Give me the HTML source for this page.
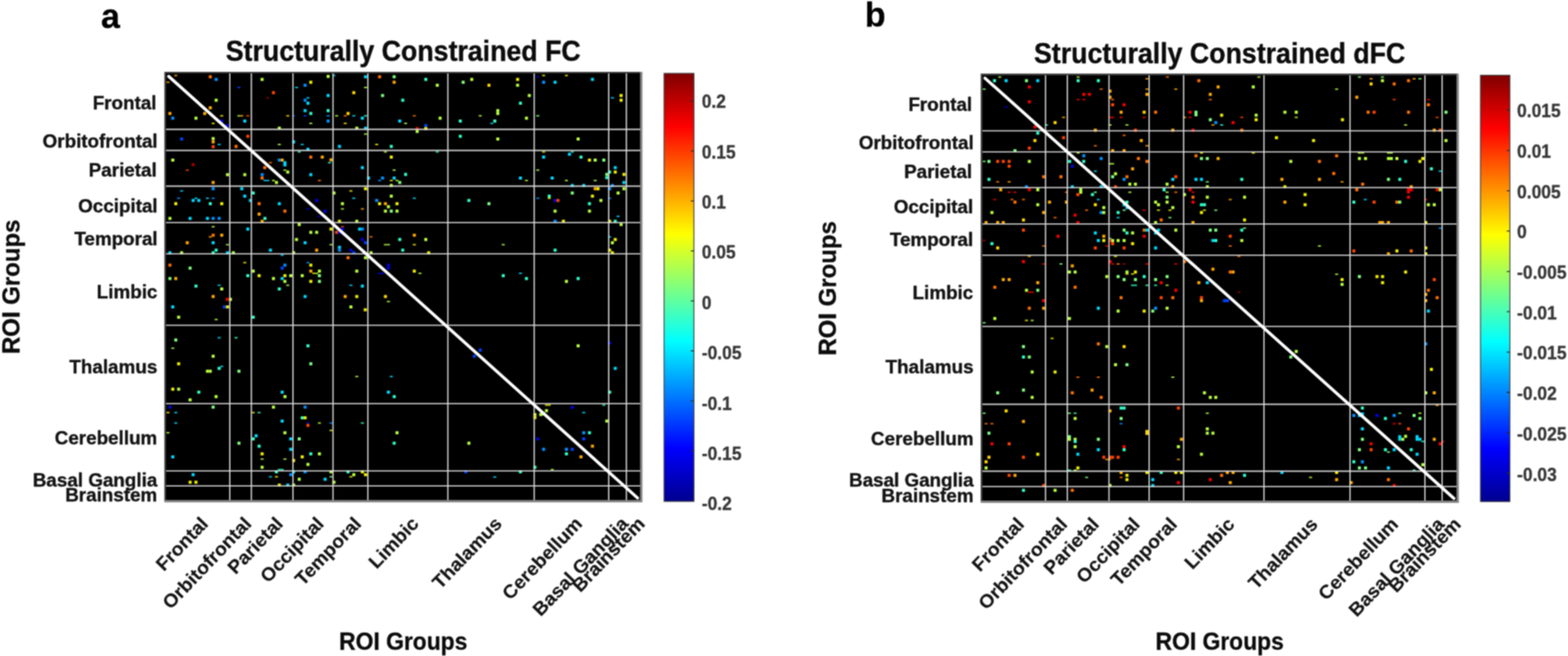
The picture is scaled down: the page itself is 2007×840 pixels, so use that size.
<!DOCTYPE html>
<html lang="en">
<head>
<meta charset="utf-8">
<title>Structurally Constrained FC and dFC</title>
<style>
html,body{margin:0;padding:0;background:#fff;}
body{width:2007px;height:840px;overflow:hidden;}
svg{display:block;}
text{font-family:"Liberation Sans",Arial,Helvetica,sans-serif;font-weight:bold;fill:#1c1c1c;}
.ti{font-size:37px;fill:#0c0c0c;stroke:#0c0c0c;stroke-width:0.5px;}
.pl{font-size:45px;fill:#000;stroke:#000;stroke-width:0.3px;}
.al{font-size:31.7px;fill:#0c0c0c;stroke:#0c0c0c;stroke-width:0.4px;}
.alv{font-size:31px;fill:#0c0c0c;stroke:#0c0c0c;stroke-width:0.4px;}
.tl{font-size:24.1px;fill:#141414;stroke:#141414;stroke-width:0.45px;}
.tr{stroke-width:0.2px;}
.cl{font-size:24px;fill:#383838;stroke:#383838;stroke-width:0.4px;}
</style>
</head>
<body>
<svg width="2007" height="840" viewBox="0 0 2007 840">
<defs>
<filter id="soft" x="0" y="0" width="2007" height="840" filterUnits="userSpaceOnUse" color-interpolation-filters="sRGB">
<feConvolveMatrix order="3" kernelMatrix="1 2 1 2 4 2 1 2 1" edgeMode="duplicate" preserveAlpha="true"/>
</filter>
<linearGradient id="jet" x1="0" y1="1" x2="0" y2="0">
<stop offset="0" stop-color="#00008f"/>
<stop offset="0.125" stop-color="#0000ff"/>
<stop offset="0.375" stop-color="#00ffff"/>
<stop offset="0.625" stop-color="#ffff00"/>
<stop offset="0.875" stop-color="#ff0000"/>
<stop offset="1" stop-color="#800000"/>
</linearGradient>
</defs>
<g filter="url(#soft)">
<rect width="2007" height="840" fill="#fff"/>
<g>
<rect x="211.1" y="92.6" width="610.1" height="549.4" fill="#000"/>
<g><rect x="223.05" y="95.72" width="3.9" height="1.9" fill="#ffa800" opacity=".85"/><rect x="267.22" y="96.38" width="3.9" height="3.9" fill="#ff7000"/><rect x="418.05" y="95.88" width="3.9" height="3.9" fill="#b8ff40"/><rect x="425.55" y="95.72" width="3.9" height="1.9" fill="#00d8ff" opacity=".85"/><rect x="465.88" y="96.38" width="3.9" height="3.9" fill="#00d8ff"/><rect x="483.88" y="96.38" width="3.9" height="3.9" fill="#ff7000"/><rect x="502.55" y="96.38" width="3.9" height="3.9" fill="#80ff80"/><rect x="274.72" y="99.72" width="3.9" height="3.9" fill="#0090ff"/><rect x="333.55" y="99.72" width="3.9" height="3.9" fill="#b8ff40"/><rect x="213.05" y="104.38" width="3.9" height="1.9" fill="#ffa800" opacity=".85"/><rect x="395.88" y="103.38" width="3.9" height="3.9" fill="#f0f000"/><rect x="502.55" y="103.38" width="3.9" height="3.9" fill="#ffa800"/><rect x="388.55" y="107.22" width="3.9" height="3.9" fill="#0090ff"/><rect x="303.88" y="111.05" width="3.9" height="1.9" fill="#0040ff" opacity=".85"/><rect x="377.55" y="111.05" width="3.9" height="1.9" fill="#00d8ff" opacity=".85"/><rect x="465.88" y="111.05" width="3.9" height="1.9" fill="#b8ff40" opacity=".85"/><rect x="348.05" y="116.72" width="3.9" height="3.9" fill="#ff4400"/><rect x="450.88" y="116.72" width="3.9" height="3.9" fill="#ffd800"/><rect x="418.05" y="120.38" width="3.9" height="3.9" fill="#00d8ff"/><rect x="487.72" y="120.38" width="3.9" height="3.9" fill="#80ff80"/><rect x="340.55" y="124.38" width="3.9" height="1.9" fill="#a00000" opacity=".85"/><rect x="392.22" y="124.38" width="3.9" height="1.9" fill="#00d8ff" opacity=".85"/><rect x="274.72" y="126.38" width="3.9" height="3.9" fill="#b8ff40"/><rect x="388.55" y="126.38" width="3.9" height="3.9" fill="#0090ff"/><rect x="513.55" y="126.38" width="3.9" height="3.9" fill="#30ffc8"/><rect x="392.22" y="130.22" width="3.9" height="3.9" fill="#00d8ff"/><rect x="267.22" y="136.05" width="3.9" height="3.9" fill="#ffa800"/><rect x="388.55" y="139.72" width="3.9" height="3.9" fill="#00d8ff"/><rect x="418.05" y="139.72" width="3.9" height="3.9" fill="#30ffc8"/><rect x="215.55" y="143.38" width="3.9" height="3.9" fill="#ffa800"/><rect x="260.05" y="143.38" width="3.9" height="3.9" fill="#ffa800"/><rect x="395.88" y="143.38" width="3.9" height="3.9" fill="#30ffc8"/><rect x="443.55" y="143.38" width="3.9" height="3.9" fill="#ffd800"/><rect x="281.88" y="147.38" width="3.9" height="1.9" fill="#f0f000" opacity=".85"/><rect x="303.88" y="147.38" width="3.9" height="1.9" fill="#b8ff40" opacity=".85"/><rect x="307.55" y="147.38" width="3.9" height="1.9" fill="#ffa800" opacity=".85"/><rect x="315.22" y="147.38" width="3.9" height="1.9" fill="#ff4400" opacity=".85"/><rect x="366.38" y="147.38" width="3.9" height="1.9" fill="#ffd800" opacity=".85"/><rect x="373.88" y="147.38" width="3.9" height="1.9" fill="#0040ff" opacity=".85"/><rect x="388.55" y="147.38" width="3.9" height="1.9" fill="#0040ff" opacity=".85"/><rect x="418.05" y="147.38" width="3.9" height="1.9" fill="#0090ff" opacity=".85"/><rect x="428.88" y="147.38" width="3.9" height="1.9" fill="#b8ff40" opacity=".85"/><rect x="439.88" y="147.38" width="3.9" height="1.9" fill="#ff7000" opacity=".85"/><rect x="450.88" y="147.38" width="3.9" height="1.9" fill="#00d8ff" opacity=".85"/><rect x="465.88" y="147.38" width="3.9" height="1.9" fill="#30ffc8" opacity=".85"/><rect x="219.22" y="149.38" width="3.9" height="3.9" fill="#0090ff"/><rect x="248.88" y="149.38" width="3.9" height="3.9" fill="#b8ff40"/><rect x="461.88" y="149.38" width="3.9" height="3.9" fill="#00d8ff"/><rect x="311.38" y="153.05" width="3.9" height="3.9" fill="#00d8ff"/><rect x="418.05" y="153.05" width="3.9" height="3.9" fill="#0090ff"/><rect x="509.72" y="153.05" width="3.9" height="3.9" fill="#00d8ff"/><rect x="281.88" y="153.05" width="3.9" height="3.9" fill="#0000e0"/><rect x="270.88" y="157.05" width="3.9" height="1.9" fill="#f0f000" opacity=".85"/><rect x="395.88" y="157.05" width="3.9" height="1.9" fill="#b8ff40" opacity=".85"/><rect x="439.88" y="157.05" width="3.9" height="1.9" fill="#ffd800" opacity=".85"/><rect x="517.22" y="157.05" width="3.9" height="1.9" fill="#b8ff40" opacity=".85"/><rect x="288.88" y="158.88" width="3.9" height="3.9" fill="#0000e0"/><rect x="355.55" y="162.22" width="3.9" height="3.9" fill="#b8ff40"/><rect x="454.72" y="162.22" width="3.9" height="3.9" fill="#b8ff40"/><rect x="465.88" y="162.22" width="3.9" height="3.9" fill="#00d8ff"/><rect x="465.88" y="170.72" width="3.9" height="1.9" fill="#b8ff40" opacity=".85"/><rect x="315.22" y="172.55" width="3.9" height="3.9" fill="#ff4400"/><rect x="230.55" y="176.05" width="3.9" height="3.9" fill="#0040ff"/><rect x="270.88" y="175.55" width="3.9" height="3.9" fill="#b8ff40"/><rect x="270.88" y="179.72" width="3.9" height="3.9" fill="#ffa800"/><rect x="373.88" y="179.72" width="3.9" height="3.9" fill="#00d8ff"/><rect x="278.55" y="184.05" width="3.9" height="1.9" fill="#00d8ff" opacity=".85"/><rect x="355.55" y="184.05" width="3.9" height="1.9" fill="#b8ff40" opacity=".85"/><rect x="384.88" y="184.05" width="3.9" height="1.9" fill="#00d8ff" opacity=".85"/><rect x="480.22" y="184.05" width="3.9" height="1.9" fill="#f0f000" opacity=".85"/><rect x="270.88" y="185.88" width="3.9" height="3.9" fill="#ff4400"/><rect x="300.22" y="185.55" width="3.9" height="3.9" fill="#ff7000"/><rect x="432.55" y="185.55" width="3.9" height="3.9" fill="#00d8ff"/><rect x="498.88" y="185.55" width="3.9" height="3.9" fill="#30ffc8"/><rect x="392.22" y="189.22" width="3.9" height="3.9" fill="#00d8ff"/><rect x="381.05" y="193.55" width="3.9" height="1.9" fill="#30ffc8" opacity=".85"/><rect x="491.38" y="193.55" width="3.9" height="1.9" fill="#b8ff40" opacity=".85"/><rect x="395.88" y="199.22" width="3.9" height="3.9" fill="#ff7000"/><rect x="410.55" y="199.22" width="3.9" height="3.9" fill="#ffa800"/><rect x="498.88" y="199.22" width="3.9" height="3.9" fill="#f0f000"/><rect x="219.22" y="203.05" width="3.9" height="3.9" fill="#b8ff40"/><rect x="355.55" y="203.05" width="3.9" height="3.9" fill="#0090ff"/><rect x="359.22" y="203.05" width="3.9" height="3.9" fill="#ffa800"/><rect x="421.72" y="202.72" width="3.9" height="3.9" fill="#ffa800"/><rect x="344.22" y="207.38" width="3.9" height="1.9" fill="#ff7000" opacity=".85"/><rect x="419.72" y="207.38" width="3.9" height="1.9" fill="#30ffc8" opacity=".85"/><rect x="362.72" y="206.38" width="3.9" height="3.9" fill="#00d8ff"/><rect x="245.22" y="208.88" width="3.9" height="3.9" fill="#a00000"/><rect x="362.72" y="209.22" width="3.9" height="3.9" fill="#00d8ff"/><rect x="336.88" y="212.72" width="3.9" height="3.9" fill="#ff7000"/><rect x="461.88" y="212.72" width="3.9" height="3.9" fill="#00d8ff"/><rect x="237.72" y="216.88" width="3.9" height="1.9" fill="#ff4400" opacity=".85"/><rect x="362.72" y="216.88" width="3.9" height="1.9" fill="#b8ff40" opacity=".85"/><rect x="502.55" y="216.88" width="3.9" height="1.9" fill="#b8ff40" opacity=".85"/><rect x="366.38" y="218.38" width="3.9" height="3.9" fill="#b8ff40"/><rect x="289.22" y="221.72" width="3.9" height="3.9" fill="#b8ff40"/><rect x="311.38" y="221.72" width="3.9" height="3.9" fill="#b8ff40"/><rect x="333.55" y="221.72" width="3.9" height="3.9" fill="#0090ff"/><rect x="395.88" y="221.72" width="3.9" height="3.9" fill="#00d8ff"/><rect x="517.22" y="221.38" width="3.9" height="3.9" fill="#30ffc8"/><rect x="543.05" y="99.72" width="3.9" height="3.9" fill="#30ffc8"/><rect x="601.88" y="99.72" width="3.9" height="3.9" fill="#b8ff40"/><rect x="660.55" y="99.72" width="3.9" height="3.9" fill="#f0f000"/><rect x="756.38" y="99.72" width="3.9" height="3.9" fill="#00d8ff"/><rect x="686.38" y="97.38" width="3.9" height="1.9" fill="#0000e0" opacity=".85"/><rect x="693.88" y="95.72" width="3.9" height="1.9" fill="#f0f000" opacity=".85"/><rect x="723.05" y="95.72" width="3.9" height="1.9" fill="#f0f000" opacity=".85"/><rect x="590.88" y="103.38" width="3.9" height="3.9" fill="#80ff80"/><rect x="693.88" y="103.38" width="3.9" height="3.9" fill="#0090ff"/><rect x="708.55" y="103.38" width="3.9" height="3.9" fill="#00d8ff"/><rect x="557.72" y="107.22" width="3.9" height="3.9" fill="#b8ff40"/><rect x="623.88" y="107.22" width="3.9" height="3.9" fill="#ffd800"/><rect x="660.55" y="107.22" width="3.9" height="3.9" fill="#b8ff40"/><rect x="675.55" y="120.38" width="3.9" height="3.9" fill="#b8ff40"/><rect x="793.05" y="120.38" width="3.9" height="3.9" fill="#f0f000"/><rect x="781.88" y="124.38" width="3.9" height="1.9" fill="#00d8ff" opacity=".85"/><rect x="793.05" y="126.38" width="3.9" height="3.9" fill="#f0f000"/><rect x="664.22" y="130.22" width="3.9" height="3.9" fill="#30ffc8"/><rect x="635.22" y="139.72" width="3.9" height="3.9" fill="#b8ff40"/><rect x="635.22" y="143.38" width="3.9" height="3.9" fill="#b8ff40"/><rect x="528.38" y="147.38" width="3.9" height="1.9" fill="#ff7000" opacity=".85"/><rect x="612.72" y="147.38" width="3.9" height="1.9" fill="#b8ff40" opacity=".85"/><rect x="686.38" y="147.38" width="3.9" height="1.9" fill="#80ff80" opacity=".85"/><rect x="561.38" y="149.38" width="3.9" height="3.9" fill="#b8ff40"/><rect x="671.88" y="149.38" width="3.9" height="3.9" fill="#b8ff40"/><rect x="587.22" y="153.05" width="3.9" height="3.9" fill="#30ffc8"/><rect x="631.38" y="153.05" width="3.9" height="3.9" fill="#30ffc8"/><rect x="627.55" y="157.05" width="3.9" height="1.9" fill="#00d8ff" opacity=".85"/><rect x="543.05" y="158.88" width="3.9" height="3.9" fill="#0040ff"/><rect x="532.05" y="162.72" width="3.9" height="3.9" fill="#f00000"/><rect x="543.05" y="162.72" width="3.9" height="3.9" fill="#f0f000"/><rect x="532.05" y="166.38" width="3.9" height="3.9" fill="#b8ff40"/><rect x="587.22" y="172.55" width="3.9" height="3.9" fill="#30ffc8"/><rect x="635.22" y="176.05" width="3.9" height="3.9" fill="#b8ff40"/><rect x="738.05" y="176.05" width="3.9" height="3.9" fill="#b8ff40"/><rect x="557.72" y="193.55" width="3.9" height="1.9" fill="#30ffc8" opacity=".85"/><rect x="693.88" y="193.55" width="3.9" height="1.9" fill="#f0f000" opacity=".85"/><rect x="730.55" y="193.55" width="3.9" height="1.9" fill="#30ffc8" opacity=".85"/><rect x="726.88" y="195.55" width="3.9" height="3.9" fill="#00d8ff"/><rect x="693.88" y="199.22" width="3.9" height="3.9" fill="#00d8ff"/><rect x="741.72" y="199.22" width="3.9" height="3.9" fill="#30ffc8"/><rect x="752.55" y="203.05" width="3.9" height="3.9" fill="#f0f000"/><rect x="759.88" y="203.05" width="3.9" height="3.9" fill="#b8ff40"/><rect x="770.88" y="203.05" width="3.9" height="3.9" fill="#80ff80"/><rect x="785.55" y="212.72" width="3.9" height="3.9" fill="#00d8ff"/><rect x="686.38" y="216.88" width="3.9" height="1.9" fill="#b8ff40" opacity=".85"/><rect x="778.38" y="218.38" width="3.9" height="3.9" fill="#30ffc8"/><rect x="785.55" y="218.38" width="3.9" height="3.9" fill="#f0f000"/><rect x="774.72" y="221.38" width="3.9" height="3.9" fill="#80ff80"/><rect x="796.72" y="221.38" width="3.9" height="3.9" fill="#f0f000"/><rect x="333.55" y="226.05" width="3.9" height="3.9" fill="#ff7000"/><rect x="469.72" y="226.05" width="3.9" height="3.9" fill="#00d8ff"/><rect x="487.72" y="226.05" width="3.9" height="3.9" fill="#0090ff"/><rect x="502.55" y="226.05" width="3.9" height="3.9" fill="#00d8ff"/><rect x="337.22" y="230.22" width="3.9" height="1.9" fill="#00d8ff" opacity=".85"/><rect x="340.88" y="230.22" width="3.9" height="1.9" fill="#00d8ff" opacity=".85"/><rect x="348.05" y="230.22" width="3.9" height="1.9" fill="#b8ff40" opacity=".85"/><rect x="406.88" y="230.22" width="3.9" height="1.9" fill="#ff7000" opacity=".85"/><rect x="483.88" y="230.22" width="3.9" height="1.9" fill="#0090ff" opacity=".85"/><rect x="498.88" y="230.22" width="3.9" height="1.9" fill="#f0f000" opacity=".85"/><rect x="506.22" y="230.22" width="3.9" height="1.9" fill="#b8ff40" opacity=".85"/><rect x="270.88" y="231.72" width="3.9" height="3.9" fill="#ffa800"/><rect x="351.88" y="231.72" width="3.9" height="3.9" fill="#b8ff40"/><rect x="509.72" y="231.72" width="3.9" height="3.9" fill="#80ff80"/><rect x="498.88" y="235.55" width="3.9" height="3.9" fill="#b8ff40"/><rect x="270.88" y="239.72" width="3.9" height="3.9" fill="#0090ff"/><rect x="307.55" y="239.72" width="3.9" height="3.9" fill="#00d8ff"/><rect x="465.88" y="239.72" width="3.9" height="3.9" fill="#f0f000"/><rect x="230.55" y="243.55" width="3.9" height="1.9" fill="#00d8ff" opacity=".85"/><rect x="447.22" y="243.55" width="3.9" height="1.9" fill="#f0f000" opacity=".85"/><rect x="322.22" y="245.22" width="3.9" height="3.9" fill="#30ffc8"/><rect x="425.55" y="245.22" width="3.9" height="3.9" fill="#b8ff40"/><rect x="311.38" y="249.22" width="3.9" height="3.9" fill="#00d8ff"/><rect x="498.88" y="249.22" width="3.9" height="3.9" fill="#b8ff40"/><rect x="226.72" y="252.88" width="3.9" height="1.9" fill="#0090ff" opacity=".85"/><rect x="248.88" y="252.88" width="3.9" height="1.9" fill="#00d8ff" opacity=".85"/><rect x="263.55" y="252.88" width="3.9" height="1.9" fill="#00d8ff" opacity=".85"/><rect x="270.88" y="252.88" width="3.9" height="1.9" fill="#0090ff" opacity=".85"/><rect x="450.88" y="252.88" width="3.9" height="1.9" fill="#00d8ff" opacity=".85"/><rect x="245.22" y="254.72" width="3.9" height="3.9" fill="#00d8ff"/><rect x="252.55" y="254.72" width="3.9" height="3.9" fill="#00d8ff"/><rect x="318.55" y="254.72" width="3.9" height="3.9" fill="#00d8ff"/><rect x="403.38" y="254.72" width="3.9" height="3.9" fill="#0000e0"/><rect x="480.22" y="254.72" width="3.9" height="3.9" fill="#0090ff"/><rect x="223.05" y="258.88" width="3.9" height="3.9" fill="#f0f000"/><rect x="267.22" y="258.88" width="3.9" height="3.9" fill="#30ffc8"/><rect x="281.88" y="258.88" width="3.9" height="3.9" fill="#f0f000"/><rect x="329.72" y="258.88" width="3.9" height="3.9" fill="#ff7000"/><rect x="355.55" y="258.88" width="3.9" height="3.9" fill="#00d8ff"/><rect x="436.38" y="258.88" width="3.9" height="3.9" fill="#b8ff40"/><rect x="483.88" y="258.88" width="3.9" height="3.9" fill="#f0f000"/><rect x="491.38" y="258.88" width="3.9" height="3.9" fill="#ffa800"/><rect x="506.22" y="258.88" width="3.9" height="3.9" fill="#f0f000"/><rect x="495.22" y="262.72" width="3.9" height="3.9" fill="#b8ff40"/><rect x="392.22" y="266.55" width="3.9" height="1.9" fill="#0000e0" opacity=".85"/><rect x="436.38" y="266.55" width="3.9" height="1.9" fill="#b8ff40" opacity=".85"/><rect x="461.88" y="266.55" width="3.9" height="1.9" fill="#ffa800" opacity=".85"/><rect x="362.72" y="268.38" width="3.9" height="3.9" fill="#ff7000"/><rect x="414.22" y="268.38" width="3.9" height="3.9" fill="#0000e0"/><rect x="491.38" y="268.38" width="3.9" height="3.9" fill="#b8ff40"/><rect x="498.88" y="268.38" width="3.9" height="3.9" fill="#80ff80"/><rect x="506.22" y="268.38" width="3.9" height="3.9" fill="#b8ff40"/><rect x="329.72" y="272.22" width="3.9" height="3.9" fill="#ffa800"/><rect x="406.88" y="276.05" width="3.9" height="1.9" fill="#0000e0" opacity=".85"/><rect x="215.55" y="277.72" width="3.9" height="3.9" fill="#b8ff40"/><rect x="241.38" y="277.72" width="3.9" height="3.9" fill="#00d8ff"/><rect x="263.55" y="277.72" width="3.9" height="3.9" fill="#00d8ff"/><rect x="270.88" y="277.72" width="3.9" height="3.9" fill="#0090ff"/><rect x="278.55" y="277.72" width="3.9" height="3.9" fill="#0090ff"/><rect x="337.22" y="277.72" width="3.9" height="3.9" fill="#30ffc8"/><rect x="333.55" y="281.38" width="3.9" height="3.9" fill="#ffa800"/><rect x="432.55" y="281.38" width="3.9" height="3.9" fill="#f0f000"/><rect x="454.72" y="281.38" width="3.9" height="3.9" fill="#b8ff40"/><rect x="381.05" y="285.55" width="3.9" height="3.9" fill="#b8ff40"/><rect x="270.88" y="289.38" width="3.9" height="1.9" fill="#b8ff40" opacity=".85"/><rect x="436.38" y="289.38" width="3.9" height="1.9" fill="#ff4400" opacity=".85"/><rect x="315.22" y="291.38" width="3.9" height="3.9" fill="#00d8ff"/><rect x="421.72" y="291.38" width="3.9" height="3.9" fill="#f0f000"/><rect x="436.38" y="291.38" width="3.9" height="3.9" fill="#0000e0"/><rect x="458.38" y="291.38" width="3.9" height="3.9" fill="#00d8ff"/><rect x="461.88" y="291.38" width="3.9" height="3.9" fill="#0090ff"/><rect x="395.88" y="295.55" width="3.9" height="3.9" fill="#b8ff40"/><rect x="403.38" y="295.55" width="3.9" height="3.9" fill="#b8ff40"/><rect x="428.88" y="295.55" width="3.9" height="3.9" fill="#ff4400"/><rect x="432.55" y="295.55" width="3.9" height="3.9" fill="#0000e0"/><rect x="270.88" y="299.22" width="3.9" height="3.9" fill="#ff7000"/><rect x="281.88" y="299.22" width="3.9" height="3.9" fill="#ffa800"/><rect x="267.22" y="302.38" width="3.9" height="1.9" fill="#ffa800" opacity=".85"/><rect x="473.05" y="302.38" width="3.9" height="1.9" fill="#ff7000" opacity=".85"/><rect x="377.55" y="304.72" width="3.9" height="3.9" fill="#b8ff40"/><rect x="461.88" y="304.72" width="3.9" height="3.9" fill="#0000e0"/><rect x="509.72" y="304.72" width="3.9" height="3.9" fill="#30ffc8"/><rect x="237.72" y="308.88" width="3.9" height="3.9" fill="#ffa800"/><rect x="270.88" y="308.88" width="3.9" height="3.9" fill="#00d8ff"/><rect x="388.55" y="308.88" width="3.9" height="3.9" fill="#00d8ff"/><rect x="465.88" y="308.88" width="3.9" height="3.9" fill="#0040ff"/><rect x="289.22" y="312.38" width="3.9" height="1.9" fill="#b8ff40" opacity=".85"/><rect x="421.72" y="312.38" width="3.9" height="1.9" fill="#b8ff40" opacity=".85"/><rect x="491.38" y="312.38" width="3.9" height="1.9" fill="#b8ff40" opacity=".85"/><rect x="495.22" y="312.38" width="3.9" height="1.9" fill="#b8ff40" opacity=".85"/><rect x="432.55" y="314.72" width="3.9" height="3.9" fill="#00d8ff"/><rect x="274.72" y="318.38" width="3.9" height="3.9" fill="#30ffc8"/><rect x="344.22" y="318.38" width="3.9" height="3.9" fill="#00d8ff"/><rect x="403.38" y="318.38" width="3.9" height="3.9" fill="#ffa800"/><rect x="432.55" y="318.38" width="3.9" height="3.9" fill="#0090ff"/><rect x="447.22" y="318.38" width="3.9" height="3.9" fill="#0000e0"/><rect x="513.55" y="318.38" width="3.9" height="3.9" fill="#30ffc8"/><rect x="215.55" y="321.72" width="3.9" height="3.9" fill="#00d8ff"/><rect x="230.55" y="321.72" width="3.9" height="3.9" fill="#b8ff40"/><rect x="270.88" y="321.72" width="3.9" height="3.9" fill="#30ffc8"/><rect x="289.22" y="321.72" width="3.9" height="3.9" fill="#00d8ff"/><rect x="296.72" y="321.72" width="3.9" height="3.9" fill="#b8ff40"/><rect x="373.88" y="321.72" width="3.9" height="3.9" fill="#b8ff40"/><rect x="450.88" y="321.72" width="3.9" height="3.9" fill="#0040ff"/><rect x="473.05" y="321.72" width="3.9" height="3.9" fill="#b8ff40"/><rect x="359.22" y="325.72" width="3.9" height="1.9" fill="#00d8ff" opacity=".85"/><rect x="443.55" y="328.05" width="3.9" height="3.9" fill="#ff7000"/><rect x="465.88" y="328.05" width="3.9" height="3.9" fill="#b8ff40"/><rect x="311.38" y="335.38" width="3.9" height="1.9" fill="#f0f000" opacity=".85"/><rect x="392.22" y="335.38" width="3.9" height="1.9" fill="#0090ff" opacity=".85"/><rect x="215.55" y="337.55" width="3.9" height="3.9" fill="#ff7000"/><rect x="362.72" y="337.55" width="3.9" height="3.9" fill="#0090ff"/><rect x="395.88" y="337.55" width="3.9" height="3.9" fill="#f0f000"/><rect x="495.22" y="337.55" width="3.9" height="3.9" fill="#0000e0"/><rect x="241.38" y="341.38" width="3.9" height="3.9" fill="#80ff80"/><rect x="359.22" y="341.38" width="3.9" height="3.9" fill="#0040ff"/><rect x="495.22" y="341.38" width="3.9" height="3.9" fill="#0000e0"/><rect x="322.22" y="345.22" width="3.9" height="3.9" fill="#b8ff40"/><rect x="395.88" y="345.22" width="3.9" height="3.9" fill="#ffa800"/><rect x="406.88" y="345.22" width="3.9" height="3.9" fill="#b8ff40"/><rect x="454.72" y="345.22" width="3.9" height="3.9" fill="#b8ff40"/><rect x="399.72" y="349.05" width="3.9" height="1.9" fill="#f0f000" opacity=".85"/><rect x="403.38" y="349.05" width="3.9" height="1.9" fill="#b8ff40" opacity=".85"/><rect x="483.88" y="349.05" width="3.9" height="1.9" fill="#0000e0" opacity=".85"/><rect x="487.72" y="349.05" width="3.9" height="1.9" fill="#0000e0" opacity=".85"/><rect x="315.22" y="351.05" width="3.9" height="3.9" fill="#30ffc8"/><rect x="329.72" y="351.05" width="3.9" height="3.9" fill="#f0f000"/><rect x="362.72" y="351.05" width="3.9" height="3.9" fill="#f0f000"/><rect x="370.22" y="351.05" width="3.9" height="3.9" fill="#b8ff40"/><rect x="384.88" y="351.05" width="3.9" height="3.9" fill="#b8ff40"/><rect x="406.88" y="351.05" width="3.9" height="3.9" fill="#80ff80"/><rect x="215.55" y="354.72" width="3.9" height="3.9" fill="#80ff80"/><rect x="223.05" y="354.72" width="3.9" height="3.9" fill="#ffa800"/><rect x="348.05" y="354.72" width="3.9" height="3.9" fill="#b8ff40"/><rect x="359.22" y="354.72" width="3.9" height="3.9" fill="#00d8ff"/><rect x="362.72" y="358.38" width="3.9" height="3.9" fill="#b8ff40"/><rect x="395.88" y="358.38" width="3.9" height="3.9" fill="#f0f000"/><rect x="406.88" y="358.38" width="3.9" height="3.9" fill="#80ff80"/><rect x="664.22" y="226.05" width="3.9" height="3.9" fill="#00d8ff"/><rect x="704.88" y="226.05" width="3.9" height="3.9" fill="#00d8ff"/><rect x="774.72" y="225.55" width="3.9" height="3.9" fill="#30ffc8"/><rect x="671.88" y="230.22" width="3.9" height="1.9" fill="#b8ff40" opacity=".85"/><rect x="723.05" y="230.22" width="3.9" height="1.9" fill="#b8ff40" opacity=".85"/><rect x="759.88" y="230.22" width="3.9" height="1.9" fill="#b8ff40" opacity=".85"/><rect x="796.72" y="231.72" width="3.9" height="3.9" fill="#00d8ff"/><rect x="730.55" y="235.55" width="3.9" height="3.9" fill="#00d8ff"/><rect x="745.22" y="235.55" width="3.9" height="3.9" fill="#00d8ff"/><rect x="781.88" y="235.55" width="3.9" height="3.9" fill="#0090ff"/><rect x="759.88" y="239.72" width="3.9" height="3.9" fill="#ffa800"/><rect x="763.55" y="239.72" width="3.9" height="3.9" fill="#f0f000"/><rect x="778.38" y="239.72" width="3.9" height="3.9" fill="#0090ff"/><rect x="796.72" y="239.72" width="3.9" height="3.9" fill="#b8ff40"/><rect x="730.55" y="245.22" width="3.9" height="3.9" fill="#80ff80"/><rect x="789.22" y="245.22" width="3.9" height="3.9" fill="#b8ff40"/><rect x="701.05" y="249.22" width="3.9" height="3.9" fill="#30ffc8"/><rect x="756.38" y="249.22" width="3.9" height="3.9" fill="#f0f000"/><rect x="528.38" y="252.88" width="3.9" height="1.9" fill="#00d8ff" opacity=".85"/><rect x="686.38" y="252.88" width="3.9" height="1.9" fill="#0090ff" opacity=".85"/><rect x="701.05" y="252.88" width="3.9" height="1.9" fill="#f0f000" opacity=".85"/><rect x="778.38" y="252.88" width="3.9" height="1.9" fill="#0090ff" opacity=".85"/><rect x="598.22" y="254.72" width="3.9" height="3.9" fill="#30ffc8"/><rect x="708.55" y="254.72" width="3.9" height="3.9" fill="#0000e0"/><rect x="712.22" y="254.72" width="3.9" height="3.9" fill="#ff4400"/><rect x="767.22" y="254.72" width="3.9" height="3.9" fill="#b8ff40"/><rect x="623.88" y="258.88" width="3.9" height="3.9" fill="#80ff80"/><rect x="752.55" y="258.88" width="3.9" height="3.9" fill="#30ffc8"/><rect x="708.55" y="268.38" width="3.9" height="3.9" fill="#b8ff40"/><rect x="752.55" y="268.38" width="3.9" height="3.9" fill="#b8ff40"/><rect x="789.22" y="276.05" width="3.9" height="1.9" fill="#00d8ff" opacity=".85"/><rect x="708.55" y="281.38" width="3.9" height="3.9" fill="#0090ff"/><rect x="719.22" y="281.38" width="3.9" height="3.9" fill="#f0f000"/><rect x="778.38" y="281.38" width="3.9" height="3.9" fill="#f0f000"/><rect x="785.55" y="281.38" width="3.9" height="3.9" fill="#30ffc8"/><rect x="793.05" y="285.55" width="3.9" height="3.9" fill="#b8ff40"/><rect x="528.38" y="299.22" width="3.9" height="3.9" fill="#ffa800"/><rect x="778.38" y="302.38" width="3.9" height="1.9" fill="#00d8ff" opacity=".85"/><rect x="543.05" y="304.72" width="3.9" height="3.9" fill="#b8ff40"/><rect x="785.55" y="304.72" width="3.9" height="3.9" fill="#f0f000"/><rect x="781.88" y="308.88" width="3.9" height="3.9" fill="#b8ff40"/><rect x="528.38" y="312.38" width="3.9" height="1.9" fill="#f0f000" opacity=".85"/><rect x="642.22" y="312.38" width="3.9" height="1.9" fill="#b8ff40" opacity=".85"/><rect x="708.55" y="318.38" width="3.9" height="3.9" fill="#30ffc8"/><rect x="778.38" y="318.38" width="3.9" height="3.9" fill="#f0f000"/><rect x="546.72" y="321.72" width="3.9" height="3.9" fill="#f0f000"/><rect x="781.88" y="321.72" width="3.9" height="3.9" fill="#f0f000"/><rect x="528.38" y="345.22" width="3.9" height="3.9" fill="#f0f000"/><rect x="535.55" y="349.05" width="3.9" height="1.9" fill="#b8ff40" opacity=".85"/><rect x="664.22" y="349.05" width="3.9" height="1.9" fill="#00d8ff" opacity=".85"/><rect x="642.22" y="351.05" width="3.9" height="3.9" fill="#30ffc8"/><rect x="671.88" y="354.72" width="3.9" height="3.9" fill="#30ffc8"/><rect x="738.05" y="354.72" width="3.9" height="3.9" fill="#30ffc8"/><rect x="723.05" y="358.38" width="3.9" height="3.9" fill="#b8ff40"/><rect x="248.88" y="364.38" width="3.9" height="3.9" fill="#30ffc8"/><rect x="278.55" y="364.38" width="3.9" height="1.9" fill="#00d8ff" opacity=".85"/><rect x="366.38" y="364.38" width="3.9" height="1.9" fill="#b8ff40" opacity=".85"/><rect x="447.22" y="364.38" width="3.9" height="1.9" fill="#00d8ff" opacity=".85"/><rect x="461.88" y="364.38" width="3.9" height="3.9" fill="#00d8ff"/><rect x="281.88" y="368.05" width="3.9" height="3.9" fill="#b8ff40"/><rect x="355.55" y="368.05" width="3.9" height="3.9" fill="#30ffc8"/><rect x="270.88" y="377.72" width="3.9" height="3.9" fill="#ffa800"/><rect x="388.55" y="377.72" width="3.9" height="3.9" fill="#00d8ff"/><rect x="439.88" y="377.72" width="3.9" height="3.9" fill="#ffa800"/><rect x="454.72" y="377.72" width="3.9" height="3.9" fill="#f0f000"/><rect x="491.38" y="377.72" width="3.9" height="3.9" fill="#ffd800"/><rect x="288.88" y="381.38" width="3.9" height="3.9" fill="#f00000"/><rect x="293.05" y="381.38" width="3.9" height="3.9" fill="#b8ff40"/><rect x="495.22" y="385.22" width="3.9" height="1.9" fill="#b8ff40" opacity=".85"/><rect x="219.22" y="391.05" width="3.9" height="3.9" fill="#00d8ff"/><rect x="285.22" y="391.05" width="3.9" height="3.9" fill="#0040ff"/><rect x="289.22" y="391.05" width="3.9" height="3.9" fill="#f0f000"/><rect x="447.22" y="391.05" width="3.9" height="3.9" fill="#b8ff40"/><rect x="465.55" y="394.72" width="3.9" height="3.9" fill="#f0f000"/><rect x="226.72" y="404.22" width="3.9" height="3.9" fill="#b8ff40"/><rect x="322.22" y="404.22" width="3.9" height="3.9" fill="#30ffc8"/><rect x="274.72" y="408.22" width="3.9" height="1.9" fill="#b8ff40" opacity=".85"/><rect x="278.55" y="431.55" width="3.9" height="1.9" fill="#00d8ff" opacity=".85"/><rect x="300.22" y="431.55" width="3.9" height="1.9" fill="#30ffc8" opacity=".85"/><rect x="223.05" y="433.38" width="3.9" height="3.9" fill="#80ff80"/><rect x="392.22" y="440.88" width="3.9" height="3.9" fill="#30ffc8"/><rect x="219.22" y="444.88" width="3.9" height="1.9" fill="#b8ff40" opacity=".85"/><rect x="270.88" y="454.22" width="3.9" height="3.9" fill="#b8ff40"/><rect x="226.72" y="463.88" width="3.9" height="3.9" fill="#f0f000"/><rect x="395.88" y="463.88" width="3.9" height="3.9" fill="#80ff80"/><rect x="281.88" y="468.22" width="3.9" height="1.9" fill="#00d8ff" opacity=".85"/><rect x="278.55" y="469.72" width="3.9" height="3.9" fill="#30ffc8"/><rect x="263.55" y="473.38" width="3.9" height="3.9" fill="#b8ff40"/><rect x="267.22" y="473.38" width="3.9" height="3.9" fill="#b8ff40"/><rect x="303.88" y="473.38" width="3.9" height="3.9" fill="#80ff80"/><rect x="454.72" y="481.22" width="3.9" height="1.9" fill="#b8ff40" opacity=".85"/><rect x="498.88" y="481.22" width="3.9" height="1.9" fill="#00d8ff" opacity=".85"/><rect x="219.22" y="496.38" width="3.9" height="3.9" fill="#f0f000"/><rect x="226.72" y="496.38" width="3.9" height="3.9" fill="#b8ff40"/><rect x="252.55" y="500.22" width="3.9" height="3.9" fill="#30ffc8"/><rect x="359.22" y="500.22" width="3.9" height="3.9" fill="#00d8ff"/><rect x="495.22" y="500.22" width="3.9" height="3.9" fill="#00d8ff"/><rect x="612.72" y="446.38" width="3.9" height="3.9" fill="#0040ff"/><rect x="605.22" y="454.22" width="3.9" height="3.9" fill="#0040ff"/><rect x="738.05" y="440.88" width="3.9" height="3.9" fill="#b8ff40"/><rect x="778.38" y="437.22" width="3.9" height="3.9" fill="#0000e0"/><rect x="785.55" y="469.72" width="3.9" height="3.9" fill="#00d8ff"/><rect x="778.38" y="500.22" width="3.9" height="3.9" fill="#30ffc8"/><rect x="241.38" y="510.05" width="3.9" height="3.9" fill="#b8ff40"/><rect x="215.55" y="519.38" width="3.9" height="3.9" fill="#0000e0"/><rect x="270.88" y="519.38" width="3.9" height="3.9" fill="#80ff80"/><rect x="348.05" y="519.38" width="3.9" height="3.9" fill="#b8ff40"/><rect x="388.55" y="519.38" width="3.9" height="3.9" fill="#0090ff"/><rect x="213.05" y="527.38" width="3.9" height="1.9" fill="#f0f000" opacity=".85"/><rect x="223.05" y="527.38" width="3.9" height="1.9" fill="#00d8ff" opacity=".85"/><rect x="322.22" y="527.38" width="3.9" height="1.9" fill="#f0f000" opacity=".85"/><rect x="329.72" y="527.38" width="3.9" height="1.9" fill="#30ffc8" opacity=".85"/><rect x="384.88" y="533.05" width="3.9" height="3.9" fill="#30ffc8"/><rect x="388.55" y="533.05" width="3.9" height="3.9" fill="#f0f000"/><rect x="359.22" y="537.22" width="3.9" height="3.9" fill="#00d8ff"/><rect x="223.05" y="540.72" width="3.9" height="1.9" fill="#00d8ff" opacity=".85"/><rect x="392.22" y="540.72" width="3.9" height="1.9" fill="#0000e0" opacity=".85"/><rect x="406.88" y="540.72" width="3.9" height="1.9" fill="#b8ff40" opacity=".85"/><rect x="421.72" y="540.72" width="3.9" height="1.9" fill="#0090ff" opacity=".85"/><rect x="461.88" y="540.72" width="3.9" height="1.9" fill="#30ffc8" opacity=".85"/><rect x="392.22" y="542.72" width="3.9" height="3.9" fill="#ff4400"/><rect x="421.72" y="550.22" width="3.9" height="1.9" fill="#f0f000" opacity=".85"/><rect x="213.05" y="553.22" width="3.9" height="1.9" fill="#b8ff40" opacity=".85"/><rect x="362.72" y="552.22" width="3.9" height="3.9" fill="#b8ff40"/><rect x="506.22" y="552.22" width="3.9" height="3.9" fill="#b8ff40"/><rect x="325.88" y="556.05" width="3.9" height="3.9" fill="#00d8ff"/><rect x="322.22" y="560.05" width="3.9" height="3.9" fill="#30ffc8"/><rect x="370.22" y="560.05" width="3.9" height="3.9" fill="#00d8ff"/><rect x="381.05" y="560.05" width="3.9" height="3.9" fill="#80ff80"/><rect x="303.88" y="565.55" width="3.9" height="3.9" fill="#80ff80"/><rect x="502.55" y="565.55" width="3.9" height="3.9" fill="#30ffc8"/><rect x="329.72" y="569.38" width="3.9" height="3.9" fill="#30ffc8"/><rect x="370.22" y="573.38" width="3.9" height="3.9" fill="#00d8ff"/><rect x="333.55" y="579.22" width="3.9" height="3.9" fill="#f0f000"/><rect x="395.88" y="579.22" width="3.9" height="3.9" fill="#30ffc8"/><rect x="406.88" y="579.22" width="3.9" height="3.9" fill="#b8ff40"/><rect x="219.22" y="583.05" width="3.9" height="3.9" fill="#00d8ff"/><rect x="384.88" y="583.05" width="3.9" height="3.9" fill="#f0f000"/><rect x="333.55" y="586.88" width="3.9" height="1.9" fill="#b8ff40" opacity=".85"/><rect x="362.72" y="586.88" width="3.9" height="1.9" fill="#b8ff40" opacity=".85"/><rect x="373.88" y="587.72" width="3.9" height="3.9" fill="#f0f000"/><rect x="392.22" y="592.72" width="3.9" height="3.9" fill="#b8ff40"/><rect x="333.55" y="596.38" width="3.9" height="3.9" fill="#b8ff40"/><rect x="355.55" y="600.38" width="3.9" height="1.9" fill="#30ffc8" opacity=".85"/><rect x="359.22" y="600.38" width="3.9" height="1.9" fill="#30ffc8" opacity=".85"/><rect x="351.88" y="602.22" width="3.9" height="3.9" fill="#30ffc8"/><rect x="373.88" y="602.22" width="3.9" height="3.9" fill="#00d8ff"/><rect x="388.55" y="602.22" width="3.9" height="3.9" fill="#0090ff"/><rect x="421.72" y="602.22" width="3.9" height="3.9" fill="#b8ff40"/><rect x="443.55" y="602.22" width="3.9" height="3.9" fill="#30ffc8"/><rect x="461.88" y="602.22" width="3.9" height="3.9" fill="#f0f000"/><rect x="245.22" y="605.88" width="3.9" height="3.9" fill="#00d8ff"/><rect x="370.22" y="605.88" width="3.9" height="3.9" fill="#0090ff"/><rect x="450.88" y="605.88" width="3.9" height="3.9" fill="#b8ff40"/><rect x="465.88" y="605.88" width="3.9" height="3.9" fill="#f0f000"/><rect x="344.22" y="609.55" width="3.9" height="1.9" fill="#00d8ff" opacity=".85"/><rect x="351.88" y="609.55" width="3.9" height="1.9" fill="#f0f000" opacity=".85"/><rect x="421.72" y="609.55" width="3.9" height="1.9" fill="#80ff80" opacity=".85"/><rect x="447.22" y="609.55" width="3.9" height="1.9" fill="#f0f000" opacity=".85"/><rect x="381.05" y="611.72" width="3.9" height="3.9" fill="#b8ff40"/><rect x="414.22" y="611.72" width="3.9" height="3.9" fill="#00d8ff"/><rect x="241.38" y="615.55" width="3.9" height="3.9" fill="#f0f000"/><rect x="248.88" y="615.55" width="3.9" height="3.9" fill="#f0f000"/><rect x="425.55" y="615.55" width="3.9" height="3.9" fill="#b8ff40"/><rect x="355.55" y="619.22" width="3.9" height="3.9" fill="#f0f000"/><rect x="366.38" y="619.22" width="3.9" height="3.9" fill="#00d8ff"/><rect x="373.88" y="619.22" width="3.9" height="3.9" fill="#b8ff40"/><rect x="697.55" y="517.72" width="3.9" height="1.9" fill="#f0f000" opacity=".85"/><rect x="701.05" y="517.72" width="3.9" height="1.9" fill="#f0f000" opacity=".85"/><rect x="770.88" y="517.72" width="3.9" height="1.9" fill="#30ffc8" opacity=".85"/><rect x="730.55" y="519.72" width="3.9" height="3.9" fill="#0000e0"/><rect x="697.55" y="523.88" width="3.9" height="3.9" fill="#b8ff40"/><rect x="745.22" y="527.38" width="3.9" height="1.9" fill="#00d8ff" opacity=".85"/><rect x="690.22" y="528.88" width="3.9" height="3.9" fill="#b8ff40"/><rect x="693.88" y="528.05" width="3.9" height="3.9" fill="#b8ff40"/><rect x="682.72" y="528.88" width="3.9" height="3.9" fill="#f0f000"/><rect x="682.72" y="532.72" width="3.9" height="3.9" fill="#f0f000"/><rect x="774.72" y="537.22" width="3.9" height="3.9" fill="#b8ff40"/><rect x="745.22" y="552.22" width="3.9" height="3.9" fill="#0090ff"/><rect x="752.55" y="552.22" width="3.9" height="3.9" fill="#30ffc8"/><rect x="686.38" y="560.05" width="3.9" height="3.9" fill="#0000e0"/><rect x="745.22" y="560.05" width="3.9" height="3.9" fill="#0040ff"/><rect x="598.22" y="565.55" width="3.9" height="3.9" fill="#b8ff40"/><rect x="756.38" y="569.38" width="3.9" height="3.9" fill="#ffa800"/><rect x="693.88" y="573.38" width="3.9" height="3.9" fill="#0090ff"/><rect x="723.05" y="573.38" width="3.9" height="3.9" fill="#0090ff"/><rect x="730.55" y="573.38" width="3.9" height="3.9" fill="#0040ff"/><rect x="723.05" y="579.22" width="3.9" height="3.9" fill="#30ffc8"/><rect x="741.72" y="583.05" width="3.9" height="3.9" fill="#ffa800"/><rect x="682.72" y="596.38" width="3.9" height="3.9" fill="#30ffc8"/><rect x="704.88" y="600.38" width="3.9" height="1.9" fill="#b8ff40" opacity=".85"/><rect x="594.22" y="602.22" width="3.9" height="3.9" fill="#0040ff"/><rect x="664.22" y="602.22" width="3.9" height="3.9" fill="#30ffc8"/><rect x="631.38" y="609.88" width="3.9" height="1.9" fill="#00d8ff" opacity=".85"/><rect x="274.61" y="505.91" width="3.9" height="3.9" fill="#b8ff40"/><rect x="362.8" y="505.91" width="3.9" height="3.9" fill="#b8ff40"/><rect x="502.68" y="505.91" width="3.9" height="3.9" fill="#30ffc8"/></g>
<path d="M294.2 92.6V642M321.7 92.6V642M375 92.6V642M426.3 92.6V642M470.8 92.6V642M573.3 92.6V642M683.7 92.6V642M779.2 92.6V642M801.7 92.6V642M211.1 165.6H821.2M211.1 192.6H821.2M211.1 238.4H821.2M211.1 285H821.2M211.1 325H821.2M211.1 416.5H821.2M211.1 516.8H821.2M211.1 603H821.2M211.1 622.2H821.2" stroke="#dcdcdc" stroke-width="1.6" fill="none"/>
<line x1="215.9" y1="97.7" x2="816" y2="637.6" stroke="#fff" stroke-width="3.9" stroke-linecap="round"/>
<path d="M211.5 642V93H821.2" stroke="#3a3a3a" stroke-width="2.2" fill="none"/>
<path d="M210.5 641.8H820.8V92" stroke="#858585" stroke-width="3" fill="none"/>
<text class="ti" transform="translate(516.15 78.3) scale(0.925 1)" text-anchor="middle">Structurally Constrained FC</text>
<text class="pl" transform="translate(129.3 36) scale(0.97 1)">a</text>
<text class="al" transform="translate(516.15 832.3) scale(0.923 1)" text-anchor="middle">ROI Groups</text>
<text class="alv" transform="translate(25.4 367.3) rotate(-90) scale(0.989 1)" text-anchor="middle">ROI Groups</text>
<text class="tl" transform="translate(200.3 139.8) scale(1.0 1)" text-anchor="end">Frontal</text>
<text class="tl tr" transform="translate(267.85 671.9) rotate(-46.2) scale(1.03 1)" text-anchor="end">Frontal</text>
<text class="tl" transform="translate(201.8 188.95) scale(1.0 1)" text-anchor="end">Orbitofrontal</text>
<text class="tl tr" transform="translate(323.15 671.9) rotate(-46.2) scale(1.03 1)" text-anchor="end">Orbitofrontal</text>
<text class="tl" transform="translate(200.6 225.9) scale(1.0 1)" text-anchor="end">Parietal</text>
<text class="tl tr" transform="translate(363.55 671.9) rotate(-46.2) scale(1.03 1)" text-anchor="end">Parietal</text>
<text class="tl" transform="translate(201.8 272.4) scale(1.0 1)" text-anchor="end">Occipital</text>
<text class="tl tr" transform="translate(415.85 671.9) rotate(-46.2) scale(1.03 1)" text-anchor="end">Occipital</text>
<text class="tl" transform="translate(201.8 313.7) scale(1.0 1)" text-anchor="end">Temporal</text>
<text class="tl tr" transform="translate(463.75 671.9) rotate(-46.2) scale(1.03 1)" text-anchor="end">Temporal</text>
<text class="tl" transform="translate(201.5 382.05) scale(1.0 1)" text-anchor="end">Limbic</text>
<text class="tl tr" transform="translate(537.25 671.9) rotate(-46.2) scale(1.03 1)" text-anchor="end">Limbic</text>
<text class="tl" transform="translate(201.3 477.85) scale(1.0 1)" text-anchor="end">Thalamus</text>
<text class="tl tr" transform="translate(643.7 671.9) rotate(-46.2) scale(1.03 1)" text-anchor="end">Thalamus</text>
<text class="tl" transform="translate(201.3 569.1) scale(1.0 1)" text-anchor="end">Cerebellum</text>
<text class="tl tr" transform="translate(746.65 671.9) rotate(-46.2) scale(1.03 1)" text-anchor="end">Cerebellum</text>
<text class="tl" transform="translate(201.3 622.8) scale(1.0 1)" text-anchor="end">Basal Ganglia</text>
<text class="tl tr" transform="translate(805.65 671.9) rotate(-46.2) scale(1.03 1)" text-anchor="end">Basal Ganglia</text>
<text class="tl" transform="translate(201.3 642.05) scale(1.0 1)" text-anchor="end">Brainstem</text>
<text class="tl tr" transform="translate(826.65 671.9) rotate(-46.2) scale(1.03 1)" text-anchor="end">Brainstem</text>
<rect x="850" y="94" width="38.2" height="548" fill="url(#jet)" stroke="#3c3c3c" stroke-width="1.2"/>
<text class="cl" transform="translate(898.2 138.2) scale(0.93 1)">0.2</text>
<text class="cl" transform="translate(898.2 202.6) scale(0.93 1)">0.15</text>
<text class="cl" transform="translate(898.2 267) scale(0.93 1)">0.1</text>
<text class="cl" transform="translate(898.2 331.4) scale(0.93 1)">0.05</text>
<text class="cl" transform="translate(898.2 395.8) scale(0.93 1)">0</text>
<text class="cl" transform="translate(898.2 460.2) scale(0.93 1)">-0.05</text>
<text class="cl" transform="translate(898.2 524.6) scale(0.93 1)">-0.1</text>
<text class="cl" transform="translate(898.2 589) scale(0.93 1)">-0.15</text>
<text class="cl" transform="translate(898.2 653.4) scale(0.93 1)">-0.2</text>
<path d="M884.2 129.3H888.2M884.2 193.3H888.2M884.2 257.3H888.2M884.2 321.3H888.2M884.2 385.3H888.2M884.2 449.3H888.2M884.2 513.3H888.2M884.2 577.3H888.2" stroke="#2a2a2a" stroke-width="1.3" fill="none"/>
</g>
<g>
<rect x="1256" y="95" width="610.2" height="547.6" fill="#000"/>
<g><rect x="1277.72" y="97.72" width="3.9" height="1.9" fill="#b8ff40" opacity=".85"/><rect x="1378.05" y="97.72" width="3.9" height="1.9" fill="#b8ff40" opacity=".85"/><rect x="1492.22" y="97.72" width="3.9" height="1.9" fill="#ff7000" opacity=".85"/><rect x="1466.05" y="99.88" width="3.9" height="1.9" fill="#ffa800" opacity=".85"/><rect x="1271.05" y="101.38" width="3.9" height="3.9" fill="#30ffc8"/><rect x="1285.88" y="101.38" width="3.9" height="3.9" fill="#00d8ff"/><rect x="1311.88" y="101.38" width="3.9" height="3.9" fill="#80ff80"/><rect x="1326.38" y="101.38" width="3.9" height="3.9" fill="#00d8ff"/><rect x="1378.05" y="101.38" width="3.9" height="3.9" fill="#30ffc8"/><rect x="1403.88" y="101.38" width="3.9" height="3.9" fill="#30ffc8"/><rect x="1532.55" y="101.38" width="3.9" height="3.9" fill="#ff7000"/><rect x="1315.55" y="109.38" width="3.9" height="3.9" fill="#f00000"/><rect x="1557.22" y="109.38" width="3.9" height="3.9" fill="#ffa800"/><rect x="1257.72" y="113.22" width="3.9" height="1.9" fill="#80ff80" opacity=".85"/><rect x="1407.55" y="113.22" width="3.9" height="1.9" fill="#ff7000" opacity=".85"/><rect x="1466.05" y="113.22" width="3.9" height="1.9" fill="#ffa800" opacity=".85"/><rect x="1503.05" y="113.22" width="3.9" height="1.9" fill="#ffa800" opacity=".85"/><rect x="1418.88" y="114.72" width="3.9" height="3.9" fill="#ffa800"/><rect x="1385.22" y="118.88" width="3.9" height="3.9" fill="#f00000"/><rect x="1392.55" y="118.88" width="3.9" height="3.9" fill="#f00000"/><rect x="1466.05" y="118.88" width="3.9" height="3.9" fill="#ffa800"/><rect x="1547.22" y="118.88" width="3.9" height="3.9" fill="#ffa800"/><rect x="1418.88" y="122.55" width="3.9" height="3.9" fill="#ffa800"/><rect x="1378.05" y="126.55" width="3.9" height="1.9" fill="#f00000" opacity=".85"/><rect x="1385.22" y="126.55" width="3.9" height="1.9" fill="#f00000" opacity=".85"/><rect x="1422.22" y="126.55" width="3.9" height="1.9" fill="#ff7000" opacity=".85"/><rect x="1547.22" y="126.55" width="3.9" height="1.9" fill="#ff7000" opacity=".85"/><rect x="1315.55" y="128.38" width="3.9" height="3.9" fill="#f00000"/><rect x="1422.22" y="132.22" width="3.9" height="3.9" fill="#ff4400"/><rect x="1436.88" y="132.22" width="3.9" height="3.9" fill="#f00000"/><rect x="1285.88" y="136.22" width="3.9" height="1.9" fill="#0000e0" opacity=".85"/><rect x="1433.05" y="141.72" width="3.9" height="3.9" fill="#ffa800"/><rect x="1462.55" y="141.72" width="3.9" height="3.9" fill="#ffd800"/><rect x="1477.22" y="141.72" width="3.9" height="3.9" fill="#ff7000"/><rect x="1521.38" y="141.72" width="3.9" height="3.9" fill="#f00000"/><rect x="1528.88" y="141.72" width="3.9" height="3.9" fill="#80ff80"/><rect x="1528.88" y="145.05" width="3.9" height="3.9" fill="#80ff80"/><rect x="1359.38" y="149.38" width="3.9" height="1.9" fill="#ffa800" opacity=".85"/><rect x="1418.88" y="149.38" width="3.9" height="1.9" fill="#f00000" opacity=".85"/><rect x="1422.22" y="149.38" width="3.9" height="1.9" fill="#f00000" opacity=".85"/><rect x="1433.05" y="149.38" width="3.9" height="1.9" fill="#f00000" opacity=".85"/><rect x="1462.55" y="149.38" width="3.9" height="1.9" fill="#f00000" opacity=".85"/><rect x="1514.22" y="149.38" width="3.9" height="1.9" fill="#ffa800" opacity=".85"/><rect x="1521.38" y="149.38" width="3.9" height="1.9" fill="#f00000" opacity=".85"/><rect x="1547.22" y="151.38" width="3.9" height="3.9" fill="#80ff80"/><rect x="1348.55" y="155.05" width="3.9" height="3.9" fill="#ffd800"/><rect x="1554.22" y="155.05" width="3.9" height="3.9" fill="#0090ff"/><rect x="1337.55" y="159.05" width="3.9" height="1.9" fill="#30ffc8" opacity=".85"/><rect x="1418.88" y="159.05" width="3.9" height="1.9" fill="#b8ff40" opacity=".85"/><rect x="1440.55" y="159.05" width="3.9" height="1.9" fill="#b8ff40" opacity=".85"/><rect x="1550.55" y="159.05" width="3.9" height="1.9" fill="#ffa800" opacity=".85"/><rect x="1322.72" y="160.55" width="3.9" height="3.9" fill="#f00000"/><rect x="1400.05" y="164.72" width="3.9" height="3.9" fill="#ffa800"/><rect x="1451.38" y="164.72" width="3.9" height="3.9" fill="#ff4400"/><rect x="1499.22" y="164.72" width="3.9" height="3.9" fill="#ffa800"/><rect x="1525.05" y="164.72" width="3.9" height="3.9" fill="#f00000"/><rect x="1326.38" y="168.55" width="3.9" height="3.9" fill="#30ffc8"/><rect x="1436.88" y="172.38" width="3.9" height="1.9" fill="#ff7000" opacity=".85"/><rect x="1359.38" y="174.38" width="3.9" height="3.9" fill="#ff4400"/><rect x="1322.72" y="178.05" width="3.9" height="3.9" fill="#ffd800"/><rect x="1458.88" y="178.05" width="3.9" height="3.9" fill="#ffa800"/><rect x="1400.05" y="185.72" width="3.9" height="1.9" fill="#ff7000" opacity=".85"/><rect x="1466.05" y="185.72" width="3.9" height="1.9" fill="#ffa800" opacity=".85"/><rect x="1315.55" y="187.72" width="3.9" height="3.9" fill="#ff4400"/><rect x="1297.22" y="191.05" width="3.9" height="3.9" fill="#80ff80"/><rect x="1422.22" y="191.05" width="3.9" height="3.9" fill="#ffa800"/><rect x="1436.88" y="191.05" width="3.9" height="3.9" fill="#ffa800"/><rect x="1378.05" y="194.88" width="3.9" height="1.9" fill="#b8ff40" opacity=".85"/><rect x="1535.88" y="194.88" width="3.9" height="1.9" fill="#f0f000" opacity=".85"/><rect x="1385.22" y="197.55" width="3.9" height="3.9" fill="#0090ff"/><rect x="1528.88" y="197.55" width="3.9" height="3.9" fill="#ff7000"/><rect x="1407.55" y="201.05" width="3.9" height="3.9" fill="#0090ff"/><rect x="1455.22" y="201.05" width="3.9" height="3.9" fill="#ff7000"/><rect x="1535.88" y="201.05" width="3.9" height="3.9" fill="#80ff80"/><rect x="1543.38" y="201.05" width="3.9" height="3.9" fill="#80ff80"/><rect x="1557.22" y="201.05" width="3.9" height="3.9" fill="#ffa800"/><rect x="1257.72" y="205.72" width="3.9" height="1.9" fill="#80ff80" opacity=".85"/><rect x="1263.88" y="204.72" width="3.9" height="3.9" fill="#80ff80"/><rect x="1275.05" y="204.72" width="3.9" height="3.9" fill="#ff4400"/><rect x="1282.22" y="204.72" width="3.9" height="3.9" fill="#ff4400"/><rect x="1289.72" y="204.72" width="3.9" height="3.9" fill="#ff4400"/><rect x="1315.55" y="204.72" width="3.9" height="3.9" fill="#b8ff40"/><rect x="1367.22" y="204.72" width="3.9" height="3.9" fill="#30ffc8"/><rect x="1385.22" y="204.72" width="3.9" height="3.9" fill="#30ffc8"/><rect x="1466.05" y="204.72" width="3.9" height="3.9" fill="#ff7000"/><rect x="1418.88" y="208.72" width="3.9" height="1.9" fill="#b8ff40" opacity=".85"/><rect x="1422.22" y="208.72" width="3.9" height="1.9" fill="#b8ff40" opacity=".85"/><rect x="1289.72" y="210.88" width="3.9" height="3.9" fill="#ff4400"/><rect x="1370.55" y="210.88" width="3.9" height="3.9" fill="#0000e0"/><rect x="1447.72" y="214.22" width="3.9" height="3.9" fill="#ffa800"/><rect x="1400.05" y="218.22" width="3.9" height="1.9" fill="#00d8ff" opacity=".85"/><rect x="1425.88" y="220.55" width="3.9" height="3.9" fill="#b8ff40"/><rect x="1609.38" y="97.72" width="3.9" height="1.9" fill="#b8ff40" opacity=".85"/><rect x="1738.05" y="97.72" width="3.9" height="1.9" fill="#80ff80" opacity=".85"/><rect x="1767.55" y="97.72" width="3.9" height="1.9" fill="#80ff80" opacity=".85"/><rect x="1753.05" y="99.88" width="3.9" height="1.9" fill="#ffa800" opacity=".85"/><rect x="1808.05" y="99.88" width="3.9" height="1.9" fill="#ffa800" opacity=".85"/><rect x="1815.55" y="99.88" width="3.9" height="1.9" fill="#80ff80" opacity=".85"/><rect x="1767.55" y="101.38" width="3.9" height="3.9" fill="#b8ff40"/><rect x="1800.88" y="101.38" width="3.9" height="3.9" fill="#ff7000"/><rect x="1753.05" y="105.55" width="3.9" height="3.9" fill="#ffd800"/><rect x="1782.55" y="105.55" width="3.9" height="3.9" fill="#ff7000"/><rect x="1602.22" y="109.38" width="3.9" height="3.9" fill="#b8ff40"/><rect x="1708.88" y="113.22" width="3.9" height="1.9" fill="#b8ff40" opacity=".85"/><rect x="1734.72" y="122.55" width="3.9" height="3.9" fill="#ffa800"/><rect x="1782.55" y="126.55" width="3.9" height="1.9" fill="#ff4400" opacity=".85"/><rect x="1826.38" y="126.55" width="3.9" height="1.9" fill="#f00000" opacity=".85"/><rect x="1826.38" y="132.22" width="3.9" height="3.9" fill="#ff7000"/><rect x="1642.72" y="141.72" width="3.9" height="3.9" fill="#b8ff40"/><rect x="1657.22" y="141.72" width="3.9" height="3.9" fill="#b8ff40"/><rect x="1749.22" y="141.72" width="3.9" height="3.9" fill="#ff7000"/><rect x="1756.88" y="141.72" width="3.9" height="3.9" fill="#ff4400"/><rect x="1800.88" y="141.72" width="3.9" height="3.9" fill="#ff7000"/><rect x="1848.88" y="141.72" width="3.9" height="3.9" fill="#80ff80"/><rect x="1561.72" y="145.55" width="3.9" height="3.9" fill="#f0f000"/><rect x="1605.88" y="145.55" width="3.9" height="3.9" fill="#b8ff40"/><rect x="1587.55" y="149.38" width="3.9" height="1.9" fill="#ff4400" opacity=".85"/><rect x="1657.22" y="149.38" width="3.9" height="1.9" fill="#b8ff40" opacity=".85"/><rect x="1837.55" y="149.38" width="3.9" height="1.9" fill="#ff4400" opacity=".85"/><rect x="1605.88" y="151.38" width="3.9" height="3.9" fill="#f0f000"/><rect x="1716.38" y="151.38" width="3.9" height="3.9" fill="#f0f000"/><rect x="1576.38" y="155.05" width="3.9" height="3.9" fill="#f00000"/><rect x="1561.72" y="159.05" width="3.9" height="1.9" fill="#30ffc8" opacity=".85"/><rect x="1797.22" y="159.05" width="3.9" height="1.9" fill="#b8ff40" opacity=".85"/><rect x="1587.55" y="164.72" width="3.9" height="3.9" fill="#ff7000"/><rect x="1833.88" y="164.72" width="3.9" height="3.9" fill="#ffa800"/><rect x="1841.38" y="164.72" width="3.9" height="3.9" fill="#ff4400"/><rect x="1631.88" y="174.38" width="3.9" height="3.9" fill="#f0f000"/><rect x="1679.38" y="178.05" width="3.9" height="3.9" fill="#f0f000"/><rect x="1848.88" y="178.05" width="3.9" height="3.9" fill="#b8ff40"/><rect x="1602.22" y="194.88" width="3.9" height="1.9" fill="#f0f000" opacity=".85"/><rect x="1738.05" y="194.88" width="3.9" height="1.9" fill="#b8ff40" opacity=".85"/><rect x="1742.22" y="194.88" width="3.9" height="1.9" fill="#b8ff40" opacity=".85"/><rect x="1775.22" y="194.88" width="3.9" height="1.9" fill="#b8ff40" opacity=".85"/><rect x="1778.88" y="194.88" width="3.9" height="1.9" fill="#b8ff40" opacity=".85"/><rect x="1708.88" y="197.55" width="3.9" height="3.9" fill="#ff7000"/><rect x="1738.05" y="201.05" width="3.9" height="3.9" fill="#b8ff40"/><rect x="1745.88" y="201.05" width="3.9" height="3.9" fill="#b8ff40"/><rect x="1775.22" y="201.05" width="3.9" height="3.9" fill="#b8ff40"/><rect x="1778.88" y="201.05" width="3.9" height="3.9" fill="#b8ff40"/><rect x="1786.05" y="201.05" width="3.9" height="3.9" fill="#b8ff40"/><rect x="1819.22" y="201.05" width="3.9" height="3.9" fill="#f0f000"/><rect x="1650.22" y="204.72" width="3.9" height="3.9" fill="#b8ff40"/><rect x="1686.88" y="204.72" width="3.9" height="3.9" fill="#ff7000"/><rect x="1797.22" y="204.72" width="3.9" height="3.9" fill="#30ffc8"/><rect x="1815.55" y="204.72" width="3.9" height="3.9" fill="#f0f000"/><rect x="1830.22" y="214.22" width="3.9" height="3.9" fill="#30ffc8"/><rect x="1841.38" y="218.22" width="3.9" height="1.9" fill="#00d8ff" opacity=".85"/><rect x="1705.22" y="220.22" width="3.9" height="3.9" fill="#ff7000"/><rect x="1333.88" y="224.38" width="3.9" height="3.9" fill="#ff7000"/><rect x="1356.05" y="224.38" width="3.9" height="3.9" fill="#ff7000"/><rect x="1422.22" y="224.38" width="3.9" height="3.9" fill="#80ff80"/><rect x="1440.55" y="224.38" width="3.9" height="3.9" fill="#ff7000"/><rect x="1503.05" y="224.38" width="3.9" height="3.9" fill="#ff4400"/><rect x="1263.88" y="227.72" width="3.9" height="3.9" fill="#30ffc8"/><rect x="1436.88" y="227.72" width="3.9" height="3.9" fill="#0090ff"/><rect x="1499.22" y="227.72" width="3.9" height="3.9" fill="#00d8ff"/><rect x="1528.88" y="227.72" width="3.9" height="3.9" fill="#00d8ff"/><rect x="1535.88" y="227.72" width="3.9" height="3.9" fill="#00d8ff"/><rect x="1275.05" y="231.88" width="3.9" height="1.9" fill="#ff7000" opacity=".85"/><rect x="1289.72" y="231.88" width="3.9" height="1.9" fill="#ffa800" opacity=".85"/><rect x="1543.38" y="231.88" width="3.9" height="1.9" fill="#80ff80" opacity=".85"/><rect x="1444.22" y="233.88" width="3.9" height="3.9" fill="#b8ff40"/><rect x="1451.38" y="233.88" width="3.9" height="3.9" fill="#b8ff40"/><rect x="1491.88" y="233.88" width="3.9" height="3.9" fill="#b8ff40"/><rect x="1311.88" y="237.22" width="3.9" height="3.9" fill="#0090ff"/><rect x="1370.55" y="237.22" width="3.9" height="3.9" fill="#00d8ff"/><rect x="1407.55" y="237.22" width="3.9" height="3.9" fill="#00d8ff"/><rect x="1425.88" y="237.22" width="3.9" height="3.9" fill="#ff4400"/><rect x="1499.22" y="237.22" width="3.9" height="3.9" fill="#ffa800"/><rect x="1543.38" y="237.22" width="3.9" height="3.9" fill="#b8ff40"/><rect x="1278.88" y="241.05" width="3.9" height="3.9" fill="#ffa800"/><rect x="1315.55" y="241.05" width="3.9" height="3.9" fill="#f00000"/><rect x="1326.38" y="241.05" width="3.9" height="3.9" fill="#b8ff40"/><rect x="1381.38" y="241.05" width="3.9" height="3.9" fill="#b8ff40"/><rect x="1488.05" y="241.05" width="3.9" height="3.9" fill="#30ffc8"/><rect x="1521.38" y="241.05" width="3.9" height="3.9" fill="#f00000"/><rect x="1289.72" y="245.22" width="3.9" height="1.9" fill="#f00000" opacity=".85"/><rect x="1297.22" y="245.22" width="3.9" height="1.9" fill="#f00000" opacity=".85"/><rect x="1363.05" y="245.22" width="3.9" height="1.9" fill="#ff7000" opacity=".85"/><rect x="1381.38" y="244.22" width="3.9" height="3.9" fill="#b8ff40"/><rect x="1400.05" y="245.22" width="3.9" height="1.9" fill="#80ff80" opacity=".85"/><rect x="1444.22" y="245.22" width="3.9" height="1.9" fill="#b8ff40" opacity=".85"/><rect x="1491.88" y="245.22" width="3.9" height="1.9" fill="#b8ff40" opacity=".85"/><rect x="1503.05" y="245.22" width="3.9" height="1.9" fill="#ff7000" opacity=".85"/><rect x="1525.05" y="245.22" width="3.9" height="1.9" fill="#f00000" opacity=".85"/><rect x="1377.72" y="247.22" width="3.9" height="3.9" fill="#ff4400"/><rect x="1396.38" y="247.22" width="3.9" height="3.9" fill="#30ffc8"/><rect x="1514.22" y="247.22" width="3.9" height="3.9" fill="#b8ff40"/><rect x="1491.88" y="250.55" width="3.9" height="3.9" fill="#80ff80"/><rect x="1525.05" y="250.55" width="3.9" height="3.9" fill="#ff7000"/><rect x="1543.38" y="250.55" width="3.9" height="3.9" fill="#b8ff40"/><rect x="1271.38" y="254.55" width="3.9" height="1.9" fill="#f00000" opacity=".85"/><rect x="1293.38" y="254.55" width="3.9" height="1.9" fill="#ff7000" opacity=".85"/><rect x="1308.05" y="254.55" width="3.9" height="1.9" fill="#ff7000" opacity=".85"/><rect x="1403.88" y="254.55" width="3.9" height="1.9" fill="#00d8ff" opacity=".85"/><rect x="1297.22" y="256.88" width="3.9" height="3.9" fill="#ff7000"/><rect x="1341.38" y="256.88" width="3.9" height="3.9" fill="#ffa800"/><rect x="1363.05" y="256.88" width="3.9" height="3.9" fill="#ffa800"/><rect x="1440.55" y="256.88" width="3.9" height="3.9" fill="#30ffc8"/><rect x="1477.22" y="256.88" width="3.9" height="3.9" fill="#b8ff40"/><rect x="1491.88" y="256.88" width="3.9" height="3.9" fill="#b8ff40"/><rect x="1525.05" y="256.88" width="3.9" height="3.9" fill="#f00000"/><rect x="1326.38" y="260.22" width="3.9" height="3.9" fill="#b8ff40"/><rect x="1400.05" y="260.22" width="3.9" height="3.9" fill="#ffd800"/><rect x="1436.88" y="260.22" width="3.9" height="3.9" fill="#00d8ff"/><rect x="1480.88" y="260.22" width="3.9" height="3.9" fill="#b8ff40"/><rect x="1535.88" y="260.22" width="3.9" height="3.9" fill="#30ffc8"/><rect x="1539.72" y="260.22" width="3.9" height="3.9" fill="#30ffc8"/><rect x="1410.88" y="263.88" width="3.9" height="3.9" fill="#b8ff40"/><rect x="1440.55" y="263.88" width="3.9" height="3.9" fill="#00d8ff"/><rect x="1499.22" y="263.88" width="3.9" height="3.9" fill="#b8ff40"/><rect x="1388.88" y="268.22" width="3.9" height="1.9" fill="#ff7000" opacity=".85"/><rect x="1436.88" y="268.22" width="3.9" height="1.9" fill="#80ff80" opacity=".85"/><rect x="1462.55" y="268.22" width="3.9" height="1.9" fill="#f00000" opacity=".85"/><rect x="1480.88" y="268.22" width="3.9" height="1.9" fill="#f0f000" opacity=".85"/><rect x="1495.55" y="268.22" width="3.9" height="1.9" fill="#f0f000" opacity=".85"/><rect x="1539.72" y="268.22" width="3.9" height="1.9" fill="#f0f000" opacity=".85"/><rect x="1554.22" y="268.22" width="3.9" height="1.9" fill="#80ff80" opacity=".85"/><rect x="1267.72" y="270.22" width="3.9" height="3.9" fill="#b8ff40"/><rect x="1333.88" y="270.22" width="3.9" height="3.9" fill="#ffa800"/><rect x="1407.55" y="270.22" width="3.9" height="3.9" fill="#0090ff"/><rect x="1410.88" y="270.22" width="3.9" height="3.9" fill="#b8ff40"/><rect x="1429.22" y="270.22" width="3.9" height="3.9" fill="#30ffc8"/><rect x="1535.88" y="270.22" width="3.9" height="3.9" fill="#f0f000"/><rect x="1374.22" y="273.55" width="3.9" height="3.9" fill="#f00000"/><rect x="1348.55" y="277.72" width="3.9" height="1.9" fill="#ff7000" opacity=".85"/><rect x="1429.22" y="277.72" width="3.9" height="1.9" fill="#00d8ff" opacity=".85"/><rect x="1495.55" y="277.72" width="3.9" height="1.9" fill="#80ff80" opacity=".85"/><rect x="1308.05" y="279.72" width="3.9" height="3.9" fill="#ffd800"/><rect x="1484.38" y="279.72" width="3.9" height="3.9" fill="#ff7000"/><rect x="1260.22" y="283.05" width="3.9" height="3.9" fill="#ffa800"/><rect x="1275.05" y="283.05" width="3.9" height="3.9" fill="#ffa800"/><rect x="1282.22" y="283.05" width="3.9" height="3.9" fill="#ffa800"/><rect x="1377.72" y="283.05" width="3.9" height="3.9" fill="#f00000"/><rect x="1477.22" y="283.05" width="3.9" height="3.9" fill="#b8ff40"/><rect x="1525.05" y="283.05" width="3.9" height="3.9" fill="#ffa800"/><rect x="1308.05" y="292.72" width="3.9" height="3.9" fill="#ff4400"/><rect x="1436.88" y="292.72" width="3.9" height="3.9" fill="#80ff80"/><rect x="1462.55" y="292.72" width="3.9" height="3.9" fill="#ff7000"/><rect x="1466.05" y="292.72" width="3.9" height="3.9" fill="#00d8ff"/><rect x="1480.88" y="292.72" width="3.9" height="3.9" fill="#00d8ff"/><rect x="1503.05" y="292.72" width="3.9" height="3.9" fill="#b8ff40"/><rect x="1547.22" y="292.72" width="3.9" height="3.9" fill="#80ff80"/><rect x="1554.22" y="292.72" width="3.9" height="3.9" fill="#80ff80"/><rect x="1400.05" y="296.38" width="3.9" height="3.9" fill="#00d8ff"/><rect x="1440.55" y="296.38" width="3.9" height="3.9" fill="#30ffc8"/><rect x="1447.72" y="296.38" width="3.9" height="3.9" fill="#b8ff40"/><rect x="1477.22" y="296.38" width="3.9" height="3.9" fill="#00d8ff"/><rect x="1352.22" y="300.55" width="3.9" height="3.9" fill="#f00000"/><rect x="1410.88" y="300.55" width="3.9" height="3.9" fill="#ffa800"/><rect x="1462.55" y="300.55" width="3.9" height="3.9" fill="#f00000"/><rect x="1418.88" y="304.55" width="3.9" height="1.9" fill="#80ff80" opacity=".85"/><rect x="1257.72" y="307.05" width="3.9" height="1.9" fill="#a00000" opacity=".85"/><rect x="1403.88" y="306.05" width="3.9" height="3.9" fill="#00d8ff"/><rect x="1410.88" y="306.05" width="3.9" height="3.9" fill="#f0f000"/><rect x="1418.88" y="306.05" width="3.9" height="3.9" fill="#f00000"/><rect x="1422.22" y="306.05" width="3.9" height="3.9" fill="#b8ff40"/><rect x="1429.22" y="306.05" width="3.9" height="3.9" fill="#b8ff40"/><rect x="1436.88" y="306.05" width="3.9" height="3.9" fill="#b8ff40"/><rect x="1550.55" y="306.05" width="3.9" height="3.9" fill="#00d8ff"/><rect x="1554.22" y="306.05" width="3.9" height="3.9" fill="#30ffc8"/><rect x="1267.72" y="310.05" width="3.9" height="3.9" fill="#30ffc8"/><rect x="1422.22" y="310.05" width="3.9" height="3.9" fill="#ff4400"/><rect x="1447.72" y="310.05" width="3.9" height="3.9" fill="#f0f000"/><rect x="1333.88" y="314.05" width="3.9" height="1.9" fill="#ff7000" opacity=".85"/><rect x="1414.72" y="314.05" width="3.9" height="1.9" fill="#f00000" opacity=".85"/><rect x="1275.05" y="315.55" width="3.9" height="3.9" fill="#ffd800"/><rect x="1400.05" y="315.55" width="3.9" height="3.9" fill="#ff4400"/><rect x="1436.88" y="315.55" width="3.9" height="3.9" fill="#ff4400"/><rect x="1477.22" y="315.55" width="3.9" height="3.9" fill="#00d8ff"/><rect x="1315.55" y="327.38" width="3.9" height="1.9" fill="#ffa800" opacity=".85"/><rect x="1425.88" y="327.38" width="3.9" height="1.9" fill="#f0f000" opacity=".85"/><rect x="1308.05" y="333.05" width="3.9" height="3.9" fill="#f00000"/><rect x="1418.88" y="333.05" width="3.9" height="3.9" fill="#f00000"/><rect x="1514.22" y="333.05" width="3.9" height="3.9" fill="#ff7000"/><rect x="1333.88" y="337.05" width="3.9" height="1.9" fill="#f00000" opacity=".85"/><rect x="1356.05" y="337.05" width="3.9" height="1.9" fill="#80ff80" opacity=".85"/><rect x="1422.22" y="337.05" width="3.9" height="1.9" fill="#f00000" opacity=".85"/><rect x="1429.22" y="337.05" width="3.9" height="1.9" fill="#ff7000" opacity=".85"/><rect x="1436.88" y="337.05" width="3.9" height="1.9" fill="#a00000" opacity=".85"/><rect x="1466.05" y="337.05" width="3.9" height="1.9" fill="#f00000" opacity=".85"/><rect x="1503.05" y="337.05" width="3.9" height="1.9" fill="#f00000" opacity=".85"/><rect x="1370.55" y="338.55" width="3.9" height="3.9" fill="#ffa800"/><rect x="1550.55" y="342.72" width="3.9" height="3.9" fill="#ffa800"/><rect x="1366.88" y="346.38" width="3.9" height="3.9" fill="#b8ff40"/><rect x="1374.22" y="346.38" width="3.9" height="3.9" fill="#b8ff40"/><rect x="1440.55" y="346.38" width="3.9" height="3.9" fill="#b8ff40"/><rect x="1451.38" y="346.38" width="3.9" height="3.9" fill="#f0f000"/><rect x="1440.55" y="349.88" width="3.9" height="1.9" fill="#f0f000" opacity=".85"/><rect x="1447.72" y="349.88" width="3.9" height="1.9" fill="#f0f000" opacity=".85"/><rect x="1414.72" y="352.22" width="3.9" height="3.9" fill="#b8ff40"/><rect x="1429.22" y="352.22" width="3.9" height="3.9" fill="#80ff80"/><rect x="1462.55" y="352.22" width="3.9" height="3.9" fill="#30ffc8"/><rect x="1491.88" y="352.22" width="3.9" height="3.9" fill="#80ff80"/><rect x="1282.22" y="356.05" width="3.9" height="3.9" fill="#ffa800"/><rect x="1289.72" y="356.05" width="3.9" height="3.9" fill="#ffa800"/><rect x="1436.88" y="356.05" width="3.9" height="3.9" fill="#80ff80"/><rect x="1451.38" y="356.05" width="3.9" height="3.9" fill="#80ff80"/><rect x="1477.22" y="356.05" width="3.9" height="3.9" fill="#80ff80"/><rect x="1326.38" y="360.05" width="3.9" height="3.9" fill="#ffa800"/><rect x="1484.38" y="360.05" width="3.9" height="3.9" fill="#f00000"/><rect x="1532.55" y="360.05" width="3.9" height="3.9" fill="#ffa800"/><rect x="1543.38" y="360.05" width="3.9" height="3.9" fill="#00d8ff"/><rect x="1587.55" y="227.72" width="3.9" height="3.9" fill="#30ffc8"/><rect x="1638.88" y="227.72" width="3.9" height="3.9" fill="#ffa800"/><rect x="1686.88" y="227.72" width="3.9" height="3.9" fill="#ffa800"/><rect x="1775.22" y="227.72" width="3.9" height="3.9" fill="#80ff80"/><rect x="1789.72" y="227.72" width="3.9" height="3.9" fill="#30ffc8"/><rect x="1715.88" y="231.88" width="3.9" height="1.9" fill="#ffa800" opacity=".85"/><rect x="1742.22" y="233.88" width="3.9" height="3.9" fill="#ff7000"/><rect x="1642.72" y="237.22" width="3.9" height="3.9" fill="#f0f000"/><rect x="1804.38" y="237.22" width="3.9" height="3.9" fill="#ffa800"/><rect x="1734.72" y="241.05" width="3.9" height="3.9" fill="#ff7000"/><rect x="1800.88" y="241.05" width="3.9" height="3.9" fill="#f00000"/><rect x="1804.38" y="241.05" width="3.9" height="3.9" fill="#f00000"/><rect x="1837.55" y="241.05" width="3.9" height="3.9" fill="#f00000"/><rect x="1841.38" y="241.05" width="3.9" height="3.9" fill="#b8ff40"/><rect x="1800.88" y="243.88" width="3.9" height="3.9" fill="#f00000"/><rect x="1668.55" y="247.22" width="3.9" height="3.9" fill="#f0f000"/><rect x="1591.05" y="250.55" width="3.9" height="3.9" fill="#b8ff40"/><rect x="1800.88" y="250.55" width="3.9" height="3.9" fill="#f00000"/><rect x="1572.72" y="254.55" width="3.9" height="1.9" fill="#ffa800" opacity=".85"/><rect x="1745.55" y="254.55" width="3.9" height="1.9" fill="#00d8ff" opacity=".85"/><rect x="1823.05" y="254.55" width="3.9" height="1.9" fill="#f00000" opacity=".85"/><rect x="1642.72" y="256.88" width="3.9" height="3.9" fill="#ffa800"/><rect x="1730.88" y="256.88" width="3.9" height="3.9" fill="#30ffc8"/><rect x="1756.88" y="256.88" width="3.9" height="3.9" fill="#ff4400"/><rect x="1786.05" y="256.88" width="3.9" height="3.9" fill="#ff7000"/><rect x="1789.72" y="256.88" width="3.9" height="3.9" fill="#80ff80"/><rect x="1668.55" y="260.22" width="3.9" height="3.9" fill="#f0f000"/><rect x="1826.38" y="260.22" width="3.9" height="3.9" fill="#b8ff40"/><rect x="1833.88" y="260.22" width="3.9" height="3.9" fill="#b8ff40"/><rect x="1591.05" y="279.72" width="3.9" height="3.9" fill="#f0f000"/><rect x="1764.22" y="283.05" width="3.9" height="3.9" fill="#ffa800"/><rect x="1767.72" y="283.05" width="3.9" height="3.9" fill="#ffa800"/><rect x="1775.22" y="283.05" width="3.9" height="3.9" fill="#ffa800"/><rect x="1823.05" y="283.05" width="3.9" height="3.9" fill="#f0f000"/><rect x="1591.05" y="291.22" width="3.9" height="1.9" fill="#80ff80" opacity=".85"/><rect x="1841.38" y="291.22" width="3.9" height="1.9" fill="#0090ff" opacity=".85"/><rect x="1587.55" y="292.72" width="3.9" height="3.9" fill="#30ffc8"/><rect x="1572.72" y="300.55" width="3.9" height="3.9" fill="#ff4400"/><rect x="1587.55" y="306.05" width="3.9" height="3.9" fill="#b8ff40"/><rect x="1572.72" y="314.05" width="3.9" height="1.9" fill="#ff7000" opacity=".85"/><rect x="1686.88" y="314.05" width="3.9" height="1.9" fill="#b8ff40" opacity=".85"/><rect x="1823.05" y="315.55" width="3.9" height="3.9" fill="#f0f000"/><rect x="1730.88" y="319.38" width="3.9" height="3.9" fill="#ff4400"/><rect x="1786.05" y="319.38" width="3.9" height="3.9" fill="#f0f000"/><rect x="1804.38" y="319.38" width="3.9" height="3.9" fill="#ff7000"/><rect x="1775.22" y="323.05" width="3.9" height="3.9" fill="#ffa800"/><rect x="1823.05" y="323.05" width="3.9" height="3.9" fill="#f0f000"/><rect x="1583.88" y="327.38" width="3.9" height="1.9" fill="#ff7000" opacity=".85"/><rect x="1572.72" y="346.38" width="3.9" height="3.9" fill="#ff7000"/><rect x="1576.38" y="346.38" width="3.9" height="3.9" fill="#ffa800"/><rect x="1797.22" y="346.38" width="3.9" height="3.9" fill="#f0f000"/><rect x="1708.88" y="350.22" width="3.9" height="1.9" fill="#b8ff40" opacity=".85"/><rect x="1738.05" y="352.22" width="3.9" height="3.9" fill="#80ff80"/><rect x="1760.55" y="352.22" width="3.9" height="3.9" fill="#f0f000"/><rect x="1767.72" y="352.22" width="3.9" height="3.9" fill="#f0f000"/><rect x="1715.88" y="356.05" width="3.9" height="3.9" fill="#f0f000"/><rect x="1833.88" y="356.05" width="3.9" height="3.9" fill="#ff4400"/><rect x="1767.72" y="360.05" width="3.9" height="3.9" fill="#f0f000"/><rect x="1715.88" y="362.22" width="3.9" height="3.9" fill="#b8ff40"/><rect x="1447.72" y="364.38" width="3.9" height="1.9" fill="#30ffc8" opacity=".85"/><rect x="1451.38" y="364.38" width="3.9" height="1.9" fill="#30ffc8" opacity=".85"/><rect x="1466.05" y="364.38" width="3.9" height="1.9" fill="#30ffc8" opacity=".85"/><rect x="1477.22" y="364.38" width="3.9" height="1.9" fill="#30ffc8" opacity=".85"/><rect x="1491.88" y="364.38" width="3.9" height="1.9" fill="#b8ff40" opacity=".85"/><rect x="1271.38" y="365.88" width="3.9" height="3.9" fill="#ff7000"/><rect x="1374.22" y="365.88" width="3.9" height="3.9" fill="#ff7000"/><rect x="1311.88" y="369.72" width="3.9" height="3.9" fill="#b8ff40"/><rect x="1326.38" y="369.72" width="3.9" height="3.9" fill="#80ff80"/><rect x="1503.05" y="369.72" width="3.9" height="3.9" fill="#f00000"/><rect x="1315.55" y="373.22" width="3.9" height="1.9" fill="#f00000" opacity=".85"/><rect x="1319.22" y="373.22" width="3.9" height="1.9" fill="#f00000" opacity=".85"/><rect x="1433.05" y="379.22" width="3.9" height="3.9" fill="#ff7000"/><rect x="1484.38" y="379.22" width="3.9" height="3.9" fill="#ff4400"/><rect x="1499.22" y="379.22" width="3.9" height="3.9" fill="#ff7000"/><rect x="1535.88" y="379.22" width="3.9" height="3.9" fill="#ff4400"/><rect x="1333.88" y="383.05" width="3.9" height="3.9" fill="#f00000"/><rect x="1535.88" y="383.05" width="3.9" height="3.9" fill="#ffa800"/><rect x="1315.55" y="392.72" width="3.9" height="3.9" fill="#ff7000"/><rect x="1333.88" y="392.72" width="3.9" height="3.9" fill="#ffa800"/><rect x="1403.88" y="392.72" width="3.9" height="3.9" fill="#00d8ff"/><rect x="1477.22" y="392.72" width="3.9" height="3.9" fill="#0090ff"/><rect x="1491.88" y="392.72" width="3.9" height="3.9" fill="#b8ff40"/><rect x="1429.22" y="396.38" width="3.9" height="3.9" fill="#b8ff40"/><rect x="1462.55" y="396.38" width="3.9" height="3.9" fill="#f0f000"/><rect x="1473.55" y="396.38" width="3.9" height="3.9" fill="#80ff80"/><rect x="1271.38" y="405.88" width="3.9" height="3.9" fill="#b8ff40"/><rect x="1366.88" y="405.88" width="3.9" height="3.9" fill="#b8ff40"/><rect x="1311.88" y="409.38" width="3.9" height="1.9" fill="#f0f000" opacity=".85"/><rect x="1319.22" y="409.38" width="3.9" height="1.9" fill="#b8ff40" opacity=".85"/><rect x="1257.72" y="412.38" width="3.9" height="1.9" fill="#80ff80" opacity=".85"/><rect x="1344.72" y="432.38" width="3.9" height="1.9" fill="#f0f000" opacity=".85"/><rect x="1403.88" y="438.38" width="3.9" height="3.9" fill="#ff7000"/><rect x="1308.05" y="441.88" width="3.9" height="3.9" fill="#80ff80"/><rect x="1414.72" y="441.88" width="3.9" height="3.9" fill="#b8ff40"/><rect x="1436.88" y="441.88" width="3.9" height="3.9" fill="#ffd800"/><rect x="1308.05" y="455.22" width="3.9" height="3.9" fill="#30ffc8"/><rect x="1315.55" y="455.22" width="3.9" height="3.9" fill="#80ff80"/><rect x="1425.88" y="465.05" width="3.9" height="3.9" fill="#b8ff40"/><rect x="1440.55" y="465.05" width="3.9" height="3.9" fill="#80ff80"/><rect x="1319.22" y="474.38" width="3.9" height="3.9" fill="#b8ff40"/><rect x="1348.55" y="474.38" width="3.9" height="3.9" fill="#f0f000"/><rect x="1377.72" y="482.05" width="3.9" height="1.9" fill="#ff7000" opacity=".85"/><rect x="1403.88" y="482.05" width="3.9" height="1.9" fill="#ff7000" opacity=".85"/><rect x="1499.22" y="482.05" width="3.9" height="1.9" fill="#b8ff40" opacity=".85"/><rect x="1308.05" y="497.55" width="3.9" height="3.9" fill="#80ff80"/><rect x="1395.88" y="497.55" width="3.9" height="3.9" fill="#ffa800"/><rect x="1275.05" y="501.05" width="3.9" height="3.9" fill="#80ff80"/><rect x="1370.55" y="501.05" width="3.9" height="3.9" fill="#ff7000"/><rect x="1539.72" y="501.05" width="3.9" height="3.9" fill="#b8ff40"/><rect x="1583.88" y="373.22" width="3.9" height="1.9" fill="#a00000" opacity=".85"/><rect x="1565.38" y="383.05" width="3.9" height="3.9" fill="#0040ff"/><rect x="1569.05" y="383.05" width="3.9" height="3.9" fill="#0040ff"/><rect x="1826.38" y="369.72" width="3.9" height="3.9" fill="#ff7000"/><rect x="1823.05" y="375.05" width="3.9" height="3.9" fill="#ffa800"/><rect x="1837.55" y="379.22" width="3.9" height="3.9" fill="#ff7000"/><rect x="1823.05" y="383.05" width="3.9" height="3.9" fill="#ffa800"/><rect x="1826.38" y="396.38" width="3.9" height="3.9" fill="#00d8ff"/><rect x="1823.05" y="438.38" width="3.9" height="3.9" fill="#0090ff"/><rect x="1657.22" y="448.05" width="3.9" height="3.9" fill="#b8ff40"/><rect x="1650.22" y="455.22" width="3.9" height="3.9" fill="#80ff80"/><rect x="1830.22" y="471.05" width="3.9" height="3.9" fill="#f0f000"/><rect x="1823.05" y="501.05" width="3.9" height="3.9" fill="#b8ff40"/><rect x="1833.88" y="501.05" width="3.9" height="3.9" fill="#ffa800"/><rect x="1319.22" y="506.88" width="3.9" height="3.9" fill="#b8ff40"/><rect x="1407.55" y="506.88" width="3.9" height="3.9" fill="#ff7000"/><rect x="1547.22" y="506.88" width="3.9" height="3.9" fill="#b8ff40"/><rect x="1554.22" y="506.88" width="3.9" height="3.9" fill="#b8ff40"/><rect x="1433.05" y="520.55" width="3.9" height="3.9" fill="#30ffc8"/><rect x="1436.88" y="520.55" width="3.9" height="3.9" fill="#30ffc8"/><rect x="1506.38" y="520.55" width="3.9" height="3.9" fill="#ff4400"/><rect x="1285.88" y="524.22" width="3.9" height="3.9" fill="#ffd800"/><rect x="1418.88" y="524.22" width="3.9" height="3.9" fill="#ffa800"/><rect x="1257.72" y="528.22" width="3.9" height="1.9" fill="#80ff80" opacity=".85"/><rect x="1366.88" y="528.22" width="3.9" height="1.9" fill="#80ff80" opacity=".85"/><rect x="1374.22" y="528.22" width="3.9" height="1.9" fill="#30ffc8" opacity=".85"/><rect x="1543.38" y="528.22" width="3.9" height="1.9" fill="#b8ff40" opacity=".85"/><rect x="1374.22" y="533.88" width="3.9" height="3.9" fill="#b8ff40"/><rect x="1433.05" y="533.88" width="3.9" height="3.9" fill="#80ff80"/><rect x="1308.05" y="537.72" width="3.9" height="3.9" fill="#ffa800"/><rect x="1260.22" y="541.55" width="3.9" height="1.9" fill="#ff7000" opacity=".85"/><rect x="1267.72" y="541.55" width="3.9" height="1.9" fill="#ff7000" opacity=".85"/><rect x="1433.05" y="541.55" width="3.9" height="1.9" fill="#0090ff" opacity=".85"/><rect x="1543.38" y="547.22" width="3.9" height="3.9" fill="#b8ff40"/><rect x="1466.05" y="550.55" width="3.9" height="3.9" fill="#ffd800"/><rect x="1466.05" y="553.05" width="3.9" height="3.9" fill="#ffd800"/><rect x="1263.88" y="552.72" width="3.9" height="3.9" fill="#80ff80"/><rect x="1543.38" y="552.72" width="3.9" height="3.9" fill="#b8ff40"/><rect x="1550.55" y="552.72" width="3.9" height="3.9" fill="#b8ff40"/><rect x="1366.88" y="557.22" width="3.9" height="3.9" fill="#80ff80"/><rect x="1366.88" y="560.55" width="3.9" height="3.9" fill="#b8ff40"/><rect x="1374.22" y="560.55" width="3.9" height="3.9" fill="#b8ff40"/><rect x="1403.88" y="560.55" width="3.9" height="3.9" fill="#80ff80"/><rect x="1510.22" y="560.55" width="3.9" height="3.9" fill="#ffa800"/><rect x="1374.22" y="563.38" width="3.9" height="3.9" fill="#30ffc8"/><rect x="1267.72" y="566.38" width="3.9" height="3.9" fill="#f00000"/><rect x="1289.72" y="566.38" width="3.9" height="3.9" fill="#ff4400"/><rect x="1374.22" y="570.05" width="3.9" height="3.9" fill="#b8ff40"/><rect x="1436.88" y="570.05" width="3.9" height="3.9" fill="#f00000"/><rect x="1506.38" y="570.05" width="3.9" height="3.9" fill="#b8ff40"/><rect x="1403.88" y="573.88" width="3.9" height="3.9" fill="#00d8ff"/><rect x="1436.88" y="573.88" width="3.9" height="3.9" fill="#30ffc8"/><rect x="1326.38" y="579.72" width="3.9" height="3.9" fill="#f0f000"/><rect x="1377.72" y="579.72" width="3.9" height="3.9" fill="#00d8ff"/><rect x="1535.88" y="579.72" width="3.9" height="3.9" fill="#b8ff40"/><rect x="1263.88" y="583.55" width="3.9" height="3.9" fill="#ffd800"/><rect x="1308.05" y="583.55" width="3.9" height="3.9" fill="#ff4400"/><rect x="1410.88" y="583.55" width="3.9" height="3.9" fill="#ff4400"/><rect x="1418.88" y="583.55" width="3.9" height="3.9" fill="#ff4400"/><rect x="1422.22" y="583.55" width="3.9" height="3.9" fill="#ff4400"/><rect x="1429.22" y="583.55" width="3.9" height="3.9" fill="#ff4400"/><rect x="1414.72" y="587.38" width="3.9" height="1.9" fill="#ffa800" opacity=".85"/><rect x="1418.05" y="587.38" width="3.9" height="1.9" fill="#ffa800" opacity=".85"/><rect x="1506.38" y="587.38" width="3.9" height="1.9" fill="#ffa800" opacity=".85"/><rect x="1260.22" y="589.38" width="3.9" height="3.9" fill="#ffd800"/><rect x="1260.22" y="597.22" width="3.9" height="3.9" fill="#b8ff40"/><rect x="1377.72" y="597.22" width="3.9" height="3.9" fill="#f0f000"/><rect x="1366.88" y="601.05" width="3.9" height="1.9" fill="#30ffc8" opacity=".85"/><rect x="1374.22" y="601.05" width="3.9" height="1.9" fill="#b8ff40" opacity=".85"/><rect x="1433.05" y="603.05" width="3.9" height="3.9" fill="#ffa800"/><rect x="1466.05" y="603.05" width="3.9" height="3.9" fill="#f0f000"/><rect x="1484.38" y="603.05" width="3.9" height="3.9" fill="#30ffc8"/><rect x="1503.05" y="603.05" width="3.9" height="3.9" fill="#f0f000"/><rect x="1510.22" y="603.05" width="3.9" height="3.9" fill="#f0f000"/><rect x="1289.72" y="606.72" width="3.9" height="3.9" fill="#ff4400"/><rect x="1297.22" y="606.72" width="3.9" height="3.9" fill="#ffa800"/><rect x="1440.55" y="606.72" width="3.9" height="3.9" fill="#f0f000"/><rect x="1388.88" y="610.38" width="3.9" height="1.9" fill="#80ff80" opacity=".85"/><rect x="1433.05" y="610.38" width="3.9" height="1.9" fill="#ff7000" opacity=".85"/><rect x="1440.55" y="612.22" width="3.9" height="3.9" fill="#f0f000"/><rect x="1473.55" y="612.22" width="3.9" height="3.9" fill="#00d8ff"/><rect x="1547.22" y="612.22" width="3.9" height="3.9" fill="#f00000"/><rect x="1506.38" y="616.05" width="3.9" height="3.9" fill="#f00000"/><rect x="1333.88" y="619.72" width="3.9" height="3.9" fill="#ff4400"/><rect x="1418.88" y="619.72" width="3.9" height="3.9" fill="#b8ff40"/><rect x="1473.55" y="619.72" width="3.9" height="3.9" fill="#00d8ff"/><rect x="1308.05" y="625.88" width="3.9" height="3.9" fill="#30ffc8"/><rect x="1348.55" y="625.88" width="3.9" height="3.9" fill="#b8ff40"/><rect x="1370.55" y="625.88" width="3.9" height="3.9" fill="#ff7000"/><rect x="1837.55" y="518.22" width="3.9" height="1.9" fill="#ffa800" opacity=".85"/><rect x="1741.88" y="520.55" width="3.9" height="3.9" fill="#30ffc8"/><rect x="1789.72" y="528.22" width="3.9" height="1.9" fill="#80ff80" opacity=".85"/><rect x="1815.55" y="528.22" width="3.9" height="1.9" fill="#b8ff40" opacity=".85"/><rect x="1730.88" y="530.05" width="3.9" height="3.9" fill="#0090ff"/><rect x="1738.05" y="530.05" width="3.9" height="3.9" fill="#00d8ff"/><rect x="1741.88" y="528.05" width="3.9" height="3.9" fill="#00d8ff"/><rect x="1760.55" y="530.05" width="3.9" height="3.9" fill="#0000e0"/><rect x="1782.55" y="530.05" width="3.9" height="3.9" fill="#0090ff"/><rect x="1808.05" y="530.05" width="3.9" height="3.9" fill="#80ff80"/><rect x="1771.38" y="533.88" width="3.9" height="3.9" fill="#30ffc8"/><rect x="1815.55" y="533.88" width="3.9" height="3.9" fill="#80ff80"/><rect x="1782.55" y="541.55" width="3.9" height="1.9" fill="#f00000" opacity=".85"/><rect x="1789.72" y="541.55" width="3.9" height="1.9" fill="#ff4400" opacity=".85"/><rect x="1741.88" y="547.22" width="3.9" height="3.9" fill="#00d8ff"/><rect x="1800.88" y="547.22" width="3.9" height="3.9" fill="#ff4400"/><rect x="1789.72" y="557.22" width="3.9" height="3.9" fill="#00d8ff"/><rect x="1797.22" y="556.72" width="3.9" height="3.9" fill="#b8ff40"/><rect x="1811.88" y="557.22" width="3.9" height="3.9" fill="#00d8ff"/><rect x="1741.88" y="560.55" width="3.9" height="3.9" fill="#80ff80"/><rect x="1789.72" y="560.55" width="3.9" height="3.9" fill="#00d8ff"/><rect x="1793.55" y="560.55" width="3.9" height="3.9" fill="#b8ff40"/><rect x="1811.88" y="560.55" width="3.9" height="3.9" fill="#00d8ff"/><rect x="1815.55" y="560.55" width="3.9" height="3.9" fill="#00d8ff"/><rect x="1833.88" y="560.55" width="3.9" height="3.9" fill="#ffa800"/><rect x="1819.22" y="564.38" width="3.9" height="1.9" fill="#30ffc8" opacity=".85"/><rect x="1845.05" y="564.38" width="3.9" height="1.9" fill="#f00000" opacity=".85"/><rect x="1753.05" y="566.38" width="3.9" height="3.9" fill="#f00000"/><rect x="1841.38" y="566.38" width="3.9" height="3.9" fill="#f00000"/><rect x="1738.05" y="573.88" width="3.9" height="3.9" fill="#80ff80"/><rect x="1753.05" y="573.88" width="3.9" height="3.9" fill="#ff4400"/><rect x="1771.38" y="573.88" width="3.9" height="3.9" fill="#30ffc8"/><rect x="1782.55" y="573.88" width="3.9" height="3.9" fill="#00d8ff"/><rect x="1804.38" y="573.88" width="3.9" height="3.9" fill="#30ffc8"/><rect x="1775.22" y="577.88" width="3.9" height="1.9" fill="#80ff80" opacity=".85"/><rect x="1811.88" y="579.72" width="3.9" height="3.9" fill="#00d8ff"/><rect x="1730.88" y="589.38" width="3.9" height="3.9" fill="#30ffc8"/><rect x="1741.88" y="589.38" width="3.9" height="3.9" fill="#0090ff"/><rect x="1819.22" y="593.05" width="3.9" height="3.9" fill="#b8ff40"/><rect x="1738.05" y="597.22" width="3.9" height="3.9" fill="#80ff80"/><rect x="1745.88" y="597.22" width="3.9" height="3.9" fill="#80ff80"/><rect x="1775.22" y="597.22" width="3.9" height="3.9" fill="#00d8ff"/><rect x="1808.05" y="601.05" width="3.9" height="1.9" fill="#30ffc8" opacity=".85"/><rect x="1569.05" y="603.05" width="3.9" height="3.9" fill="#ffa800"/><rect x="1576.38" y="603.05" width="3.9" height="3.9" fill="#ffa800"/><rect x="1638.88" y="603.05" width="3.9" height="3.9" fill="#00d8ff"/><rect x="1708.88" y="603.05" width="3.9" height="3.9" fill="#f0f000"/><rect x="1561.72" y="606.72" width="3.9" height="3.9" fill="#ff7000"/><rect x="1591.05" y="606.72" width="3.9" height="3.9" fill="#30ffc8"/><rect x="1675.55" y="610.38" width="3.9" height="1.9" fill="#b8ff40" opacity=".85"/><rect x="1708.88" y="612.22" width="3.9" height="3.9" fill="#ffa800"/><rect x="1775.22" y="612.22" width="3.9" height="3.9" fill="#ff7000"/><rect x="1572.72" y="616.05" width="3.9" height="3.9" fill="#ffa800"/><rect x="1727.55" y="616.05" width="3.9" height="3.9" fill="#ffa800"/><rect x="1782.55" y="619.72" width="3.9" height="3.9" fill="#f00000"/></g>
<path d="M1338.3 95V642.6M1366.2 95V642.6M1419.5 95V642.6M1470.8 95V642.6M1515 95V642.6M1617.8 95V642.6M1728 95V642.6M1823.8 95V642.6M1845.8 95V642.6M1256 167.5H1866.2M1256 194.5H1866.2M1256 240.3H1866.2M1256 286.8H1866.2M1256 326.8H1866.2M1256 418H1866.2M1256 517.6H1866.2M1256 603.4H1866.2M1256 623H1866.2" stroke="#dcdcdc" stroke-width="1.6" fill="none"/>
<line x1="1260.8" y1="100.1" x2="1861" y2="638.2" stroke="#fff" stroke-width="3.9" stroke-linecap="round"/>
<path d="M1256.4 642.6V95.4H1866.2" stroke="#3a3a3a" stroke-width="2.2" fill="none"/>
<path d="M1255.4 642.4H1865.8V94.4" stroke="#858585" stroke-width="3" fill="none"/>
<text class="ti" transform="translate(1561.1 80.7) scale(0.925 1)" text-anchor="middle">Structurally Constrained dFC</text>
<text class="pl" transform="translate(1107 33.8) scale(0.97 1)">b</text>
<text class="al" transform="translate(1561.1 832.3) scale(0.923 1)" text-anchor="middle">ROI Groups</text>
<text class="alv" transform="translate(1070.4 369.3) rotate(-90) scale(0.989 1)" text-anchor="middle">ROI Groups</text>
<text class="tl" transform="translate(1244.3 141.95) scale(1.0 1)" text-anchor="end">Frontal</text>
<text class="tl tr" transform="translate(1312.35 672.5) rotate(-46.2) scale(1.03 1)" text-anchor="end">Frontal</text>
<text class="tl" transform="translate(1246.4 190.6) scale(1.0 1)" text-anchor="end">Orbitofrontal</text>
<text class="tl tr" transform="translate(1367.45 672.5) rotate(-46.2) scale(1.03 1)" text-anchor="end">Orbitofrontal</text>
<text class="tl" transform="translate(1244.3 227.7) scale(1.0 1)" text-anchor="end">Parietal</text>
<text class="tl tr" transform="translate(1408.05 672.5) rotate(-46.2) scale(1.03 1)" text-anchor="end">Parietal</text>
<text class="tl" transform="translate(1245.7 273.05) scale(1.0 1)" text-anchor="end">Occipital</text>
<text class="tl tr" transform="translate(1460.35 672.5) rotate(-46.2) scale(1.03 1)" text-anchor="end">Occipital</text>
<text class="tl" transform="translate(1245.7 315.3) scale(1.0 1)" text-anchor="end">Temporal</text>
<text class="tl tr" transform="translate(1508.1 672.5) rotate(-46.2) scale(1.03 1)" text-anchor="end">Temporal</text>
<text class="tl" transform="translate(1245.7 382.6) scale(1.0 1)" text-anchor="end">Limbic</text>
<text class="tl tr" transform="translate(1581.6 672.5) rotate(-46.2) scale(1.03 1)" text-anchor="end">Limbic</text>
<text class="tl" transform="translate(1246.1 477.8) scale(1.0 1)" text-anchor="end">Thalamus</text>
<text class="tl tr" transform="translate(1688.1 672.5) rotate(-46.2) scale(1.03 1)" text-anchor="end">Thalamus</text>
<text class="tl" transform="translate(1246.1 569.8) scale(1.0 1)" text-anchor="end">Cerebellum</text>
<text class="tl tr" transform="translate(1791.1 672.5) rotate(-46.2) scale(1.03 1)" text-anchor="end">Cerebellum</text>
<text class="tl" transform="translate(1246.1 623) scale(1.0 1)" text-anchor="end">Basal Ganglia</text>
<text class="tl tr" transform="translate(1850 672.5) rotate(-46.2) scale(1.03 1)" text-anchor="end">Basal Ganglia</text>
<text class="tl" transform="translate(1246.1 642.6) scale(1.0 1)" text-anchor="end">Brainstem</text>
<text class="tl tr" transform="translate(1871.2 672.5) rotate(-46.2) scale(1.03 1)" text-anchor="end">Brainstem</text>
<rect x="1895" y="96.4" width="37.6" height="545.8" fill="url(#jet)" stroke="#3c3c3c" stroke-width="1.2"/>
<text class="cl" transform="translate(1941.8 150.1) scale(0.93 1)">0.015</text>
<text class="cl" transform="translate(1941.8 201.83) scale(0.93 1)">0.01</text>
<text class="cl" transform="translate(1941.8 253.56) scale(0.93 1)">0.005</text>
<text class="cl" transform="translate(1941.8 305.29) scale(0.93 1)">0</text>
<text class="cl" transform="translate(1941.8 357.02) scale(0.93 1)">-0.005</text>
<text class="cl" transform="translate(1941.8 408.75) scale(0.93 1)">-0.01</text>
<text class="cl" transform="translate(1941.8 460.48) scale(0.93 1)">-0.015</text>
<text class="cl" transform="translate(1941.8 512.21) scale(0.93 1)">-0.02</text>
<text class="cl" transform="translate(1941.8 563.94) scale(0.93 1)">-0.025</text>
<text class="cl" transform="translate(1941.8 615.67) scale(0.93 1)">-0.03</text>
<path d="M1928.6 141H1932.6M1928.6 192.64H1932.6M1928.6 244.28H1932.6M1928.6 295.92H1932.6M1928.6 347.56H1932.6M1928.6 399.2H1932.6M1928.6 450.84H1932.6M1928.6 502.48H1932.6M1928.6 554.12H1932.6M1928.6 605.76H1932.6" stroke="#2a2a2a" stroke-width="1.3" fill="none"/>
</g>
</g>
</svg>
</body>
</html>
